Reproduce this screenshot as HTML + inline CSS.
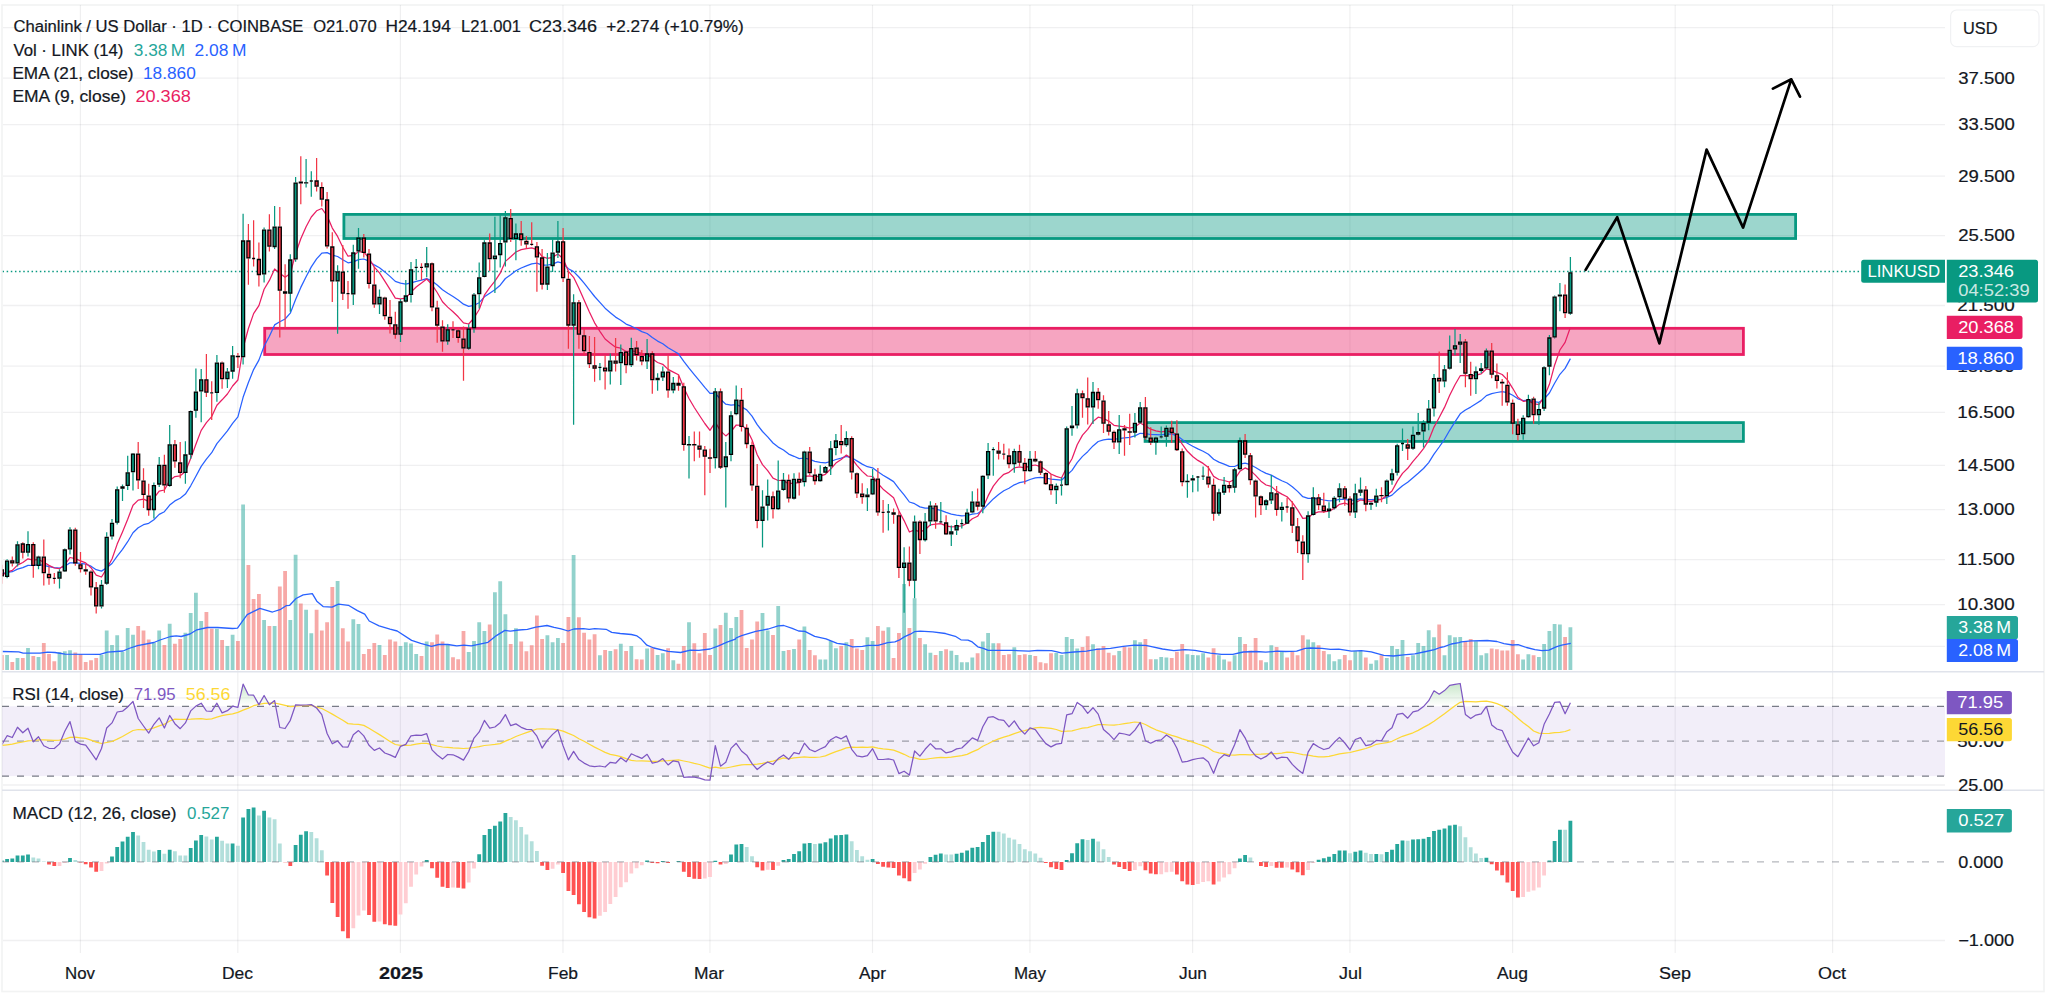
<!DOCTYPE html>
<html lang="en"><head><meta charset="utf-8"><title>Chainlink / US Dollar</title>
<style>html,body{margin:0;padding:0;background:#fff;overflow:hidden}svg{display:block}</style></head>
<body>
<svg width="2048" height="996" viewBox="0 0 2048 996" font-family="'Liberation Sans', sans-serif" font-size="16" fill="#131722">
<rect width="2048" height="996" fill="#fff"/>
<path d="M80.4 5V953 M237.8 5V953 M400.4 5V953 M563.0 5V953 M709.9 5V953 M872.5 5V953 M1029.9 5V953 M1192.6 5V953 M1349.9 5V953 M1512.6 5V953 M1675.2 5V953 M1832.6 5V953" stroke="#2A2E39" stroke-opacity="0.075" stroke-width="1.15" fill="none"/>
<path d="M3 27.6H1945 M3 78.1H1945 M3 124.7H1945 M3 176.1H1945 M3 235.7H1945 M3 305.5H1945 M3 366.1H1945 M3 412.3H1945 M3 465.4H1945 M3 509.7H1945 M3 559.7H1945 M3 604.6H1945 M3 646.4H1945 M3 697.9H1945 M3 785.0H1945 M3 940.5H1945" stroke="#2A2E39" stroke-opacity="0.07" stroke-width="1.3" fill="none"/>
<rect x="2" y="5" width="2042" height="986.5" fill="none" stroke="#2A2E39" stroke-opacity="0.06" stroke-width="1.6"/>
<path d="M2 671.7H2044M2 790.2H2044" stroke="#E0E3EB" stroke-width="1.5" fill="none"/>
<rect x="2" y="706.3" width="1943" height="69.8" fill="#7E57C2" fill-opacity="0.1"/>
<path d="M2 706.3H1945M2 776.1H1945" stroke="#787B86" stroke-width="1.3" stroke-dasharray="7 8" fill="none"/>
<path d="M2 741.2H1945" stroke="#787B86" stroke-opacity="0.7" stroke-width="1.2" stroke-dasharray="7 8" fill="none"/>
<defs><clipPath id="plot"><rect x="2.6" y="5" width="2042" height="950"/></clipPath></defs><g clip-path="url(#plot)">
<path d="M5.2 655.0h3.8V670h-3.8zM15.6 658.1h3.8V670h-3.8zM26.1 648.1h3.8V670h-3.8zM36.6 657.1h3.8V670h-3.8zM57.6 652.1h3.8V670h-3.8zM62.9 651.2h3.8V670h-3.8zM68.1 650.2h3.8V670h-3.8zM99.6 655.0h3.8V670h-3.8zM104.8 630.6h3.8V670h-3.8zM110.1 645.0h3.8V670h-3.8zM115.3 635.2h3.8V670h-3.8zM120.6 652.1h3.8V670h-3.8zM125.8 628.1h3.8V670h-3.8zM131.1 634.8h3.8V670h-3.8zM152.0 642.5h3.8V670h-3.8zM157.3 630.4h3.8V670h-3.8zM167.8 623.8h3.8V670h-3.8zM183.5 632.8h3.8V670h-3.8zM188.8 613.1h3.8V670h-3.8zM194.0 592.8h3.8V670h-3.8zM199.3 621.0h3.8V670h-3.8zM215.0 628.8h3.8V670h-3.8zM225.5 645.9h3.8V670h-3.8zM230.7 634.8h3.8V670h-3.8zM241.2 504.5h3.8V670h-3.8zM262.2 620.1h3.8V670h-3.8zM272.7 625.9h3.8V670h-3.8zM288.4 620.1h3.8V670h-3.8zM293.7 554.7h3.8V670h-3.8zM304.2 609.8h3.8V670h-3.8zM309.4 633.2h3.8V670h-3.8zM335.7 580.9h3.8V670h-3.8zM351.4 619.2h3.8V670h-3.8zM356.6 624.1h3.8V670h-3.8zM377.6 645.1h3.8V670h-3.8zM398.6 646.0h3.8V670h-3.8zM403.9 642.2h3.8V670h-3.8zM409.1 643.6h3.8V670h-3.8zM414.3 653.9h3.8V670h-3.8zM424.8 641.5h3.8V670h-3.8zM445.8 644.5h3.8V670h-3.8zM466.8 652.1h3.8V670h-3.8zM472.1 640.9h3.8V670h-3.8zM477.3 622.3h3.8V670h-3.8zM482.5 631.0h3.8V670h-3.8zM493.0 592.3h3.8V670h-3.8zM498.3 581.2h3.8V670h-3.8zM503.5 614.2h3.8V670h-3.8zM514.0 628.3h3.8V670h-3.8zM545.5 635.3h3.8V670h-3.8zM550.7 642.2h3.8V670h-3.8zM556.0 638.1h3.8V670h-3.8zM571.7 555.0h3.8V670h-3.8zM598.0 655.3h3.8V670h-3.8zM608.4 651.1h3.8V670h-3.8zM618.9 643.8h3.8V670h-3.8zM629.4 645.9h3.8V670h-3.8zM645.2 648.5h3.8V670h-3.8zM655.7 655.0h3.8V670h-3.8zM660.9 653.2h3.8V670h-3.8zM671.4 660.2h3.8V670h-3.8zM687.1 622.2h3.8V670h-3.8zM713.4 628.6h3.8V670h-3.8zM723.9 612.8h3.8V670h-3.8zM729.1 628.1h3.8V670h-3.8zM734.4 617.0h3.8V670h-3.8zM760.6 613.1h3.8V670h-3.8zM765.8 630.4h3.8V670h-3.8zM776.3 606.1h3.8V670h-3.8zM781.6 651.1h3.8V670h-3.8zM792.1 649.0h3.8V670h-3.8zM802.5 626.5h3.8V670h-3.8zM818.3 659.5h3.8V670h-3.8zM823.5 659.5h3.8V670h-3.8zM828.8 640.9h3.8V670h-3.8zM834.0 648.3h3.8V670h-3.8zM844.5 642.2h3.8V670h-3.8zM865.5 637.3h3.8V670h-3.8zM870.7 640.9h3.8V670h-3.8zM886.5 627.2h3.8V670h-3.8zM902.2 584.0h3.8V670h-3.8zM912.7 598.3h3.8V670h-3.8zM923.2 644.3h3.8V670h-3.8zM928.5 652.8h3.8V670h-3.8zM938.9 651.1h3.8V670h-3.8zM949.4 650.8h3.8V670h-3.8zM954.7 655.0h3.8V670h-3.8zM959.9 662.3h3.8V670h-3.8zM965.2 662.3h3.8V670h-3.8zM970.4 657.4h3.8V670h-3.8zM980.9 641.5h3.8V670h-3.8zM986.2 633.1h3.8V670h-3.8zM991.4 643.3h3.8V670h-3.8zM1012.4 647.3h3.8V670h-3.8zM1028.1 655.0h3.8V670h-3.8zM1054.4 652.9h3.8V670h-3.8zM1059.6 655.0h3.8V670h-3.8zM1064.8 637.0h3.8V670h-3.8zM1070.1 639.1h3.8V670h-3.8zM1075.3 648.5h3.8V670h-3.8zM1091.1 644.3h3.8V670h-3.8zM1117.3 651.1h3.8V670h-3.8zM1133.0 640.2h3.8V670h-3.8zM1138.3 642.3h3.8V670h-3.8zM1154.0 659.2h3.8V670h-3.8zM1159.3 657.0h3.8V670h-3.8zM1164.5 657.4h3.8V670h-3.8zM1185.5 654.2h3.8V670h-3.8zM1190.8 655.0h3.8V670h-3.8zM1196.0 655.3h3.8V670h-3.8zM1201.2 653.2h3.8V670h-3.8zM1217.0 655.3h3.8V670h-3.8zM1222.2 659.5h3.8V670h-3.8zM1232.7 655.3h3.8V670h-3.8zM1238.0 637.0h3.8V670h-3.8zM1264.2 662.3h3.8V670h-3.8zM1269.4 645.2h3.8V670h-3.8zM1279.9 651.1h3.8V670h-3.8zM1306.2 639.5h3.8V670h-3.8zM1311.4 642.2h3.8V670h-3.8zM1327.1 654.2h3.8V670h-3.8zM1332.4 661.2h3.8V670h-3.8zM1337.6 659.2h3.8V670h-3.8zM1353.4 651.1h3.8V670h-3.8zM1358.6 651.1h3.8V670h-3.8zM1369.1 663.7h3.8V670h-3.8zM1374.4 660.2h3.8V670h-3.8zM1384.9 658.1h3.8V670h-3.8zM1390.1 646.1h3.8V670h-3.8zM1395.3 649.0h3.8V670h-3.8zM1400.6 640.1h3.8V670h-3.8zM1411.1 655.3h3.8V670h-3.8zM1416.3 643.1h3.8V670h-3.8zM1421.6 645.9h3.8V670h-3.8zM1426.8 630.3h3.8V670h-3.8zM1432.1 637.3h3.8V670h-3.8zM1442.6 655.3h3.8V670h-3.8zM1447.8 635.2h3.8V670h-3.8zM1453.1 637.3h3.8V670h-3.8zM1458.3 637.0h3.8V670h-3.8zM1474.0 641.2h3.8V670h-3.8zM1479.3 655.3h3.8V670h-3.8zM1484.5 653.2h3.8V670h-3.8zM1521.2 659.5h3.8V670h-3.8zM1526.5 654.2h3.8V670h-3.8zM1537.0 657.0h3.8V670h-3.8zM1542.2 644.0h3.8V670h-3.8zM1547.5 631.1h3.8V670h-3.8zM1552.7 623.9h3.8V670h-3.8zM1558.0 624.4h3.8V670h-3.8zM1568.5 627.2h3.8V670h-3.8z" fill="#26A69A" fill-opacity="0.5"/>
<path d="M-0.1 655.0h3.8V670h-3.8zM10.4 662.1h3.8V670h-3.8zM20.9 658.1h3.8V670h-3.8zM31.4 656.0h3.8V670h-3.8zM41.9 643.1h3.8V670h-3.8zM47.1 654.1h3.8V670h-3.8zM52.4 661.2h3.8V670h-3.8zM73.4 652.5h3.8V670h-3.8zM78.6 654.1h3.8V670h-3.8zM83.8 662.1h3.8V670h-3.8zM89.1 660.2h3.8V670h-3.8zM94.3 658.1h3.8V670h-3.8zM136.3 626.0h3.8V670h-3.8zM141.6 630.6h3.8V670h-3.8zM146.8 639.6h3.8V670h-3.8zM162.5 645.0h3.8V670h-3.8zM173.0 643.8h3.8V670h-3.8zM178.3 639.0h3.8V670h-3.8zM204.5 612.1h3.8V670h-3.8zM209.8 628.8h3.8V670h-3.8zM220.2 640.0h3.8V670h-3.8zM236.0 641.0h3.8V670h-3.8zM246.5 565.0h3.8V670h-3.8zM251.7 599.0h3.8V670h-3.8zM257.0 593.9h3.8V670h-3.8zM267.5 625.9h3.8V670h-3.8zM277.9 586.4h3.8V670h-3.8zM283.2 571.0h3.8V670h-3.8zM298.9 603.5h3.8V670h-3.8zM314.7 609.8h3.8V670h-3.8zM319.9 630.4h3.8V670h-3.8zM325.2 622.3h3.8V670h-3.8zM330.4 587.1h3.8V670h-3.8zM340.9 628.3h3.8V670h-3.8zM346.1 641.5h3.8V670h-3.8zM361.9 653.9h3.8V670h-3.8zM367.1 649.1h3.8V670h-3.8zM372.4 643.1h3.8V670h-3.8zM382.9 655.0h3.8V670h-3.8zM388.1 639.5h3.8V670h-3.8zM393.4 641.5h3.8V670h-3.8zM419.6 655.9h3.8V670h-3.8zM430.1 642.2h3.8V670h-3.8zM435.3 634.6h3.8V670h-3.8zM440.6 641.5h3.8V670h-3.8zM451.1 657.2h3.8V670h-3.8zM456.3 659.3h3.8V670h-3.8zM461.6 631.0h3.8V670h-3.8zM487.8 624.4h3.8V670h-3.8zM508.8 644.0h3.8V670h-3.8zM519.3 641.6h3.8V670h-3.8zM524.5 651.3h3.8V670h-3.8zM529.8 645.2h3.8V670h-3.8zM535.0 615.5h3.8V670h-3.8zM540.2 639.1h3.8V670h-3.8zM561.2 643.1h3.8V670h-3.8zM566.5 617.0h3.8V670h-3.8zM577.0 617.3h3.8V670h-3.8zM582.2 632.8h3.8V670h-3.8zM587.5 639.5h3.8V670h-3.8zM592.7 634.2h3.8V670h-3.8zM603.2 650.1h3.8V670h-3.8zM613.7 649.2h3.8V670h-3.8zM624.2 651.1h3.8V670h-3.8zM634.7 659.2h3.8V670h-3.8zM639.9 659.5h3.8V670h-3.8zM650.4 647.5h3.8V670h-3.8zM666.2 648.3h3.8V670h-3.8zM676.6 663.7h3.8V670h-3.8zM681.9 645.9h3.8V670h-3.8zM692.4 643.3h3.8V670h-3.8zM697.6 653.2h3.8V670h-3.8zM702.9 633.1h3.8V670h-3.8zM708.1 655.0h3.8V670h-3.8zM718.6 625.1h3.8V670h-3.8zM739.6 610.0h3.8V670h-3.8zM744.8 648.0h3.8V670h-3.8zM750.1 639.5h3.8V670h-3.8zM755.3 621.5h3.8V670h-3.8zM771.1 634.9h3.8V670h-3.8zM786.8 650.1h3.8V670h-3.8zM797.3 639.4h3.8V670h-3.8zM807.8 650.1h3.8V670h-3.8zM813.0 655.3h3.8V670h-3.8zM839.3 646.1h3.8V670h-3.8zM849.8 639.1h3.8V670h-3.8zM855.0 648.5h3.8V670h-3.8zM860.3 650.1h3.8V670h-3.8zM876.0 626.0h3.8V670h-3.8zM881.2 630.7h3.8V670h-3.8zM891.7 658.1h3.8V670h-3.8zM897.0 633.1h3.8V670h-3.8zM907.5 628.1h3.8V670h-3.8zM918.0 638.1h3.8V670h-3.8zM933.7 654.9h3.8V670h-3.8zM944.2 649.2h3.8V670h-3.8zM975.7 653.2h3.8V670h-3.8zM996.7 643.3h3.8V670h-3.8zM1001.9 655.0h3.8V670h-3.8zM1007.1 654.2h3.8V670h-3.8zM1017.6 655.0h3.8V670h-3.8zM1022.9 654.2h3.8V670h-3.8zM1033.4 656.1h3.8V670h-3.8zM1038.6 662.3h3.8V670h-3.8zM1043.9 663.3h3.8V670h-3.8zM1049.1 653.2h3.8V670h-3.8zM1080.6 647.1h3.8V670h-3.8zM1085.8 636.3h3.8V670h-3.8zM1096.3 648.3h3.8V670h-3.8zM1101.6 646.1h3.8V670h-3.8zM1106.8 652.8h3.8V670h-3.8zM1112.1 655.3h3.8V670h-3.8zM1122.6 646.8h3.8V670h-3.8zM1127.8 647.5h3.8V670h-3.8zM1143.5 639.1h3.8V670h-3.8zM1148.8 659.2h3.8V670h-3.8zM1169.8 658.1h3.8V670h-3.8zM1175.0 651.8h3.8V670h-3.8zM1180.3 644.0h3.8V670h-3.8zM1206.5 657.4h3.8V670h-3.8zM1211.7 648.3h3.8V670h-3.8zM1227.5 661.6h3.8V670h-3.8zM1243.2 644.0h3.8V670h-3.8zM1248.5 650.6h3.8V670h-3.8zM1253.7 638.1h3.8V670h-3.8zM1259.0 660.2h3.8V670h-3.8zM1274.7 647.1h3.8V670h-3.8zM1285.2 657.4h3.8V670h-3.8zM1290.4 651.8h3.8V670h-3.8zM1295.7 655.3h3.8V670h-3.8zM1300.9 635.3h3.8V670h-3.8zM1316.7 645.2h3.8V670h-3.8zM1321.9 651.1h3.8V670h-3.8zM1342.9 655.0h3.8V670h-3.8zM1348.1 660.2h3.8V670h-3.8zM1363.9 657.4h3.8V670h-3.8zM1379.6 655.3h3.8V670h-3.8zM1405.8 657.0h3.8V670h-3.8zM1437.3 624.4h3.8V670h-3.8zM1463.5 640.9h3.8V670h-3.8zM1468.8 639.1h3.8V670h-3.8zM1489.8 648.5h3.8V670h-3.8zM1495.0 649.2h3.8V670h-3.8zM1500.3 650.6h3.8V670h-3.8zM1505.5 650.6h3.8V670h-3.8zM1510.8 640.1h3.8V670h-3.8zM1516.0 654.2h3.8V670h-3.8zM1531.7 655.3h3.8V670h-3.8zM1563.2 637.0h3.8V670h-3.8z" fill="#EF5350" fill-opacity="0.5"/>
<polyline points="2.5,651.5 18.8,651.9 23.1,653.1 40.0,653.1 47.5,652.1 55.0,652.5 65.0,654.1 100.0,654.4 107.5,652.1 123.1,651.0 128.8,648.5 137.5,645.6 153.8,642.5 160.0,640.0 170.6,636.5 176.2,635.9 181.2,636.5 190.0,634.0 196.9,629.8 207.5,627.5 217.5,627.5 232.5,628.5 237.5,628.1 240.0,624.7 247.2,614.7 259.9,608.4 272.5,612.0 280.7,609.3 286.1,605.7 289.7,605.3 296.0,598.5 303.2,594.9 312.3,593.6 316.8,601.2 323.1,606.6 332.1,607.1 338.5,604.2 348.4,605.3 357.4,610.6 364.7,614.2 369.2,621.0 379.1,625.9 390.0,629.2 397.2,631.0 411.6,640.4 420.7,643.3 431.5,646.3 438.7,644.5 447.8,644.5 456.8,645.8 464.0,645.1 471.3,645.8 482.1,643.6 488.0,642.3 496.4,635.6 504.9,630.4 510.5,631.1 518.9,630.0 527.4,629.3 535.8,627.2 547.0,625.5 554.1,627.4 561.1,628.9 568.1,631.0 573.8,629.0 583.6,628.6 589.2,629.3 594.8,628.6 606.1,629.3 611.7,632.4 620.2,633.5 631.4,634.5 637.0,635.9 641.2,639.1 646.9,645.2 653.9,648.0 668.0,651.3 680.6,652.5 690.4,650.1 698.9,650.4 710.1,649.0 718.6,645.9 727.0,642.2 735.4,639.1 736.0,638.0 741.6,635.6 755.7,631.4 768.3,629.0 778.2,625.8 783.8,625.5 792.2,628.3 798.6,631.0 804.9,631.4 814.7,636.3 826.0,638.8 837.2,643.3 845.7,644.5 852.7,646.8 862.5,646.4 868.2,645.4 878.0,645.4 887.8,642.6 894.9,641.9 899.1,640.2 904.7,636.6 910.3,634.2 914.5,631.7 920.2,631.1 932.8,631.8 945.5,633.5 955.3,636.3 960.9,639.8 968.0,640.2 972.2,641.9 977.8,646.8 983.4,648.3 988.2,650.4 1012.1,650.4 1029.0,651.1 1037.4,650.4 1051.5,650.6 1057.1,651.8 1062.0,653.2 1074.0,652.0 1086.6,651.1 1096.5,649.4 1110.5,648.3 1123.2,646.4 1134.4,645.2 1145.7,645.4 1152.7,646.8 1162.5,649.0 1173.8,650.6 1185.0,649.7 1194.9,650.4 1203.3,651.8 1210.3,653.2 1221.6,654.3 1232.8,654.3 1243.2,652.0 1255.9,651.5 1265.7,652.2 1277.0,651.1 1285.4,651.5 1296.7,651.1 1305.1,648.3 1310.7,648.0 1322.0,648.3 1330.4,649.4 1338.8,649.1 1351.5,651.1 1361.3,650.6 1371.2,651.8 1383.8,655.3 1393.7,656.0 1403.5,654.9 1414.8,653.9 1426.0,651.5 1434.4,649.7 1440.1,647.5 1444.3,646.6 1451.3,644.0 1459.0,642.6 1461.2,641.9 1471.0,640.9 1473.1,640.8 1487.2,640.5 1497.0,641.5 1504.0,643.6 1512.5,645.0 1518.1,644.7 1526.5,647.5 1535.0,649.7 1542.0,650.6 1549.0,650.1 1556.1,646.8 1561.7,645.2 1570.8,643.3" fill="none" stroke="#2962FF" stroke-width="1.3" stroke-linejoin="round"/>
<rect x="343.9" y="214.4" width="1451.6999999999998" height="24.099999999999994" fill="#089981" fill-opacity="0.4" stroke="#089981" stroke-width="2.8"/>
<rect x="264.7" y="328.3" width="1478.7" height="26.19999999999999" fill="#E91E63" fill-opacity="0.4" stroke="#E91E63" stroke-width="2.8"/>
<rect x="1145.1" y="422.6" width="598.3000000000002" height="18.799999999999955" fill="#089981" fill-opacity="0.4" stroke="#089981" stroke-width="2.8"/>
<path d="M2.5 271.5H1861" stroke="#089981" stroke-width="1.4" stroke-dasharray="1.5 2.65" fill="none"/>
<polyline points="1.8,573.7 7.1,572.5 12.3,571.7 17.5,569.1 22.8,567.6 28.0,565.4 33.3,565.5 38.5,564.6 43.8,565.4 49.0,566.6 54.3,567.7 59.5,568.0 64.8,566.3 70.0,562.8 75.3,562.9 80.5,563.4 85.7,564.2 91.0,566.2 96.2,569.7 101.5,571.1 106.7,567.8 112.0,563.5 117.2,556.2 122.5,549.3 127.7,541.7 133.0,532.8 138.2,527.8 143.5,524.7 148.7,523.3 153.9,519.7 159.2,514.4 164.4,511.7 169.7,505.1 174.9,500.9 180.2,498.3 185.4,494.1 190.7,485.8 195.9,476.2 201.2,466.4 206.4,459.1 211.7,452.7 216.9,443.6 222.1,437.3 227.4,430.9 232.6,423.4 237.9,416.9 243.1,397.3 248.4,382.5 253.6,369.6 258.9,360.1 264.1,346.3 269.4,336.2 274.6,324.9 279.8,321.7 285.1,319.0 290.3,313.2 295.6,299.5 300.8,287.4 306.1,276.7 311.3,266.9 316.6,258.9 321.8,253.2 327.1,252.6 332.3,255.1 337.6,256.5 342.8,259.8 348.0,262.8 353.3,261.8 358.5,259.6 363.8,259.0 369.0,261.2 374.3,264.9 379.5,267.7 384.8,271.9 390.0,276.4 395.3,281.4 400.5,283.1 405.8,284.2 411.0,282.9 416.2,281.4 421.5,280.1 426.7,278.6 432.0,281.1 437.2,285.0 442.5,289.8 447.7,293.2 453.0,296.5 458.2,300.1 463.5,304.2 468.7,306.4 474.0,305.3 479.2,302.7 484.4,296.8 489.7,293.2 494.9,289.7 500.2,285.2 505.4,278.5 510.7,274.8 515.9,270.8 521.2,268.0 526.4,265.8 531.7,263.8 536.9,263.2 542.1,265.1 547.4,265.2 552.6,264.1 557.9,261.9 563.1,263.4 568.4,268.7 573.6,271.6 578.9,277.0 584.1,283.2 589.4,289.9 594.6,296.5 599.9,302.4 605.1,308.2 610.3,312.7 615.6,317.1 620.8,320.2 626.1,324.1 631.3,326.2 636.6,328.7 641.8,331.6 647.1,333.5 652.3,337.6 657.6,341.1 662.8,343.7 668.1,347.8 673.3,350.8 678.5,353.9 683.8,361.4 689.0,368.2 694.3,374.7 699.5,380.9 704.8,387.3 710.0,393.3 715.3,393.1 720.5,399.3 725.8,404.2 731.0,405.2 736.2,404.7 741.5,406.7 746.7,409.9 752.0,416.2 757.2,424.7 762.5,431.5 767.7,436.9 773.0,443.0 778.2,447.1 783.5,450.0 788.7,454.1 794.0,456.3 799.2,458.6 804.4,458.0 809.7,459.4 814.9,461.3 820.2,462.4 825.4,462.8 830.7,461.5 835.9,459.5 841.2,458.2 846.4,456.3 851.7,457.8 856.9,460.9 862.2,464.1 867.4,466.7 872.6,467.8 877.9,471.7 883.1,475.2 888.4,478.4 893.6,481.6 898.9,488.7 904.1,494.9 909.4,502.0 914.6,503.7 919.9,506.9 925.1,508.2 930.4,508.0 935.6,509.2 940.8,510.3 946.1,512.4 951.3,514.1 956.6,515.1 961.8,515.8 967.1,515.5 972.3,514.2 977.6,513.5 982.8,510.0 988.1,504.2 993.3,498.9 998.6,494.6 1003.8,490.8 1009.0,488.3 1014.3,484.8 1019.5,482.7 1024.8,481.7 1030.0,479.5 1035.3,477.8 1040.5,477.4 1045.8,478.0 1051.0,479.1 1056.3,479.7 1061.5,480.2 1066.7,475.2 1072.0,470.4 1077.2,462.7 1082.5,456.4 1087.7,451.7 1093.0,445.9 1098.2,441.5 1103.5,439.9 1108.7,439.1 1114.0,439.4 1119.2,438.5 1124.5,437.8 1129.7,437.3 1134.9,435.9 1140.2,433.3 1145.4,433.7 1150.7,434.5 1155.9,434.7 1161.2,434.9 1166.4,434.2 1171.7,434.1 1176.9,435.6 1182.2,439.6 1187.4,443.2 1192.7,446.2 1197.9,448.9 1203.1,451.3 1208.4,454.2 1213.6,459.2 1218.9,462.1 1224.1,464.1 1229.4,466.3 1234.6,466.5 1239.9,464.1 1245.1,463.2 1250.4,464.7 1255.6,467.5 1260.9,470.8 1266.1,473.4 1271.3,475.1 1276.6,478.1 1281.8,480.7 1287.1,483.0 1292.3,486.7 1297.6,491.4 1302.8,496.7 1308.1,498.4 1313.3,498.3 1318.6,498.9 1323.8,500.0 1329.0,500.8 1334.3,500.5 1339.5,499.4 1344.8,499.3 1350.0,500.5 1355.3,499.8 1360.5,498.9 1365.8,499.4 1371.0,499.7 1376.3,499.3 1381.5,499.0 1386.8,497.3 1392.0,495.1 1397.2,490.3 1402.5,485.7 1407.7,482.2 1413.0,477.7 1418.2,473.3 1423.5,468.5 1428.7,462.6 1434.0,454.2 1439.2,447.0 1444.5,439.3 1449.7,430.3 1455.0,421.8 1460.2,413.8 1465.4,410.0 1470.7,407.1 1475.9,403.7 1481.2,400.4 1486.4,395.6 1491.7,393.6 1496.9,392.5 1502.2,391.6 1507.4,392.6 1512.7,395.3 1517.9,398.8 1523.2,400.5 1528.4,400.3 1533.6,401.7 1538.9,402.3 1544.1,399.0 1549.4,393.0 1554.6,383.2 1559.9,374.3 1565.1,368.4 1570.4,358.6" fill="none" stroke="#2962FF" stroke-width="1.25" stroke-linejoin="round"/>
<polyline points="1.8,575.1 7.1,572.1 12.3,570.4 17.5,565.1 22.8,562.5 28.0,558.8 33.3,560.2 38.5,559.5 43.8,562.2 49.0,565.4 54.3,568.0 59.5,568.7 64.8,564.8 70.0,557.5 75.3,558.7 80.5,560.8 85.7,562.9 91.0,567.7 96.2,575.1 101.5,577.0 106.7,568.6 112.0,559.0 117.2,544.1 122.5,531.9 127.7,519.2 133.0,505.2 138.2,500.1 143.5,499.1 148.7,501.3 153.9,498.0 159.2,491.1 164.4,490.0 169.7,480.4 174.9,476.6 180.2,475.8 185.4,471.4 190.7,458.6 195.9,444.3 201.2,430.4 206.4,422.6 211.7,416.6 216.9,405.2 222.1,399.8 227.4,394.0 232.6,386.0 237.9,380.0 243.1,348.0 248.4,328.5 253.6,313.6 258.9,305.6 264.1,289.2 269.4,280.4 274.6,269.0 279.8,273.2 285.1,277.3 290.3,273.6 295.6,253.7 300.8,238.7 306.1,226.7 311.3,217.0 316.6,210.8 321.8,208.5 327.1,215.8 332.3,228.1 337.6,236.4 342.8,247.2 348.0,256.2 353.3,255.4 358.5,251.8 363.8,252.0 369.0,258.2 374.3,267.1 379.5,272.8 384.8,281.1 390.0,289.4 395.3,298.1 400.5,298.8 405.8,298.1 411.0,292.1 416.2,287.0 421.5,283.1 426.7,279.0 432.0,284.6 437.2,292.5 442.5,301.8 447.7,307.1 453.0,311.7 458.2,316.8 463.5,322.9 468.7,324.0 474.0,318.0 479.2,309.5 484.4,295.2 489.7,287.7 494.9,281.1 500.2,273.2 505.4,261.4 510.7,256.8 515.9,252.0 521.2,249.6 526.4,248.6 531.7,247.8 536.9,249.7 542.1,256.5 547.4,258.4 552.6,257.3 557.9,254.0 563.1,258.7 568.4,271.3 573.6,277.3 578.9,288.2 584.1,300.0 589.4,312.1 594.6,322.8 599.9,331.3 605.1,339.0 610.3,343.2 615.6,347.2 620.8,348.2 626.1,351.5 631.3,350.8 636.6,351.7 641.8,353.6 647.1,353.6 652.3,358.8 657.6,362.5 662.8,364.3 668.1,369.4 673.3,372.1 678.5,374.7 683.8,387.8 689.0,398.5 694.3,407.5 699.5,415.5 704.8,423.5 710.0,430.3 715.3,422.2 720.5,430.9 725.8,435.9 731.0,431.6 736.2,425.0 741.5,425.4 746.7,429.1 752.0,439.7 757.2,454.7 762.5,464.6 767.7,470.6 773.0,478.1 778.2,480.5 783.5,480.4 788.7,483.9 794.0,482.9 799.2,482.8 804.4,476.4 809.7,475.8 814.9,476.8 820.2,476.2 825.4,474.3 830.7,469.0 835.9,463.1 841.2,459.5 846.4,455.1 851.7,458.5 856.9,465.3 862.2,471.4 867.4,476.0 872.6,476.5 877.9,483.5 883.1,489.2 888.4,493.5 893.6,497.7 898.9,510.8 904.1,520.6 909.4,532.0 914.6,529.9 919.9,531.9 925.1,529.8 930.4,524.8 935.6,524.2 940.8,523.6 946.1,525.8 951.3,526.9 956.6,526.5 961.8,525.9 967.1,523.2 972.3,518.7 977.6,516.3 982.8,507.9 988.1,495.9 993.3,486.1 998.6,479.4 1003.8,474.3 1009.0,472.3 1014.3,467.9 1019.5,466.9 1024.8,467.8 1030.0,465.9 1035.3,465.0 1040.5,466.6 1045.8,470.1 1051.0,474.0 1056.3,476.4 1061.5,478.0 1066.7,467.6 1072.0,458.8 1077.2,444.8 1082.5,435.1 1087.7,429.4 1093.0,421.6 1098.2,417.2 1103.5,418.5 1108.7,421.1 1114.0,425.3 1119.2,426.1 1124.5,426.9 1129.7,428.1 1134.9,427.0 1140.2,423.0 1145.4,425.9 1150.7,429.2 1155.9,430.8 1161.2,431.9 1166.4,431.1 1171.7,431.5 1176.9,435.2 1182.2,444.2 1187.4,451.3 1192.7,456.5 1197.9,460.4 1203.1,463.4 1208.4,467.6 1213.6,476.4 1218.9,479.5 1224.1,480.5 1229.4,482.0 1234.6,479.5 1239.9,471.3 1245.1,467.9 1250.4,470.4 1255.6,475.4 1260.9,481.2 1266.1,485.0 1271.3,486.4 1276.6,491.1 1281.8,494.1 1287.1,496.8 1292.3,502.4 1297.6,509.9 1302.8,518.4 1308.1,517.8 1313.3,513.6 1318.6,511.9 1323.8,511.8 1329.0,511.2 1334.3,508.4 1339.5,504.3 1344.8,503.2 1350.0,505.0 1355.3,502.6 1360.5,500.0 1365.8,500.9 1371.0,501.3 1376.3,500.1 1381.5,499.3 1386.8,495.5 1392.0,491.0 1397.2,481.4 1402.5,473.4 1407.7,468.3 1413.0,461.4 1418.2,455.3 1423.5,448.6 1428.7,440.3 1434.0,427.1 1439.2,417.5 1444.5,407.4 1449.7,395.2 1455.0,384.7 1460.2,375.7 1465.4,375.3 1470.7,376.1 1475.9,375.2 1481.2,373.8 1486.4,369.0 1491.7,370.2 1496.9,372.3 1502.2,374.5 1507.4,379.9 1512.7,388.3 1517.9,397.2 1523.2,401.3 1528.4,400.8 1533.6,403.7 1538.9,404.7 1544.1,396.9 1549.4,384.3 1554.6,365.2 1559.9,350.0 1565.1,342.4 1570.4,327.3" fill="none" stroke="#E91E63" stroke-width="1.25" stroke-linejoin="round"/>
<path d="M7.1 559.3V560.6M7.1 576.9V578.3M17.5 541.3V544.3M17.5 563.5V566.6M28.0 531.3V544.0M28.0 552.7V556.6M38.5 555.7V556.6M38.5 566.0V569.3M59.5 569.3V571.5M59.5 578.7V588.6M64.8 548.5V549.4M64.8 571.5V572.0M70.0 527.3V529.5M70.0 549.4V554.5M101.5 580.1V584.7M101.5 606.4V608.5M106.7 532.2V536.7M106.7 583.8V584.7M112.0 519.0V522.8M112.0 536.4V539.5M117.2 486.5V489.2M117.2 522.8V524.6M122.5 484.6V486.4M122.5 488.8V500.9M127.7 455.7V472.3M127.7 485.9V490.0M133.0 453.0V453.5M133.0 472.3V490.4M153.9 482.4V485.0M153.9 510.1V518.4M159.2 457.1V464.7M159.2 484.6V487.0M169.7 424.9V444.3M169.7 485.9V486.8M185.4 441.2V454.4M185.4 472.9V483.7M190.7 410.5V411.0M190.7 454.8V458.8M195.9 368.5V391.5M195.9 410.8V417.7M201.2 368.9V379.2M201.2 391.5V422.2M216.9 355.0V362.5M216.9 392.9V401.8M227.4 368.0V371.6M227.4 379.2V387.9M232.6 345.9V355.3M232.6 371.6V378.8M243.1 213.7V240.4M243.1 357.2V364.5M264.1 227.4V229.6M264.1 274.4V282.5M274.6 206.1V226.5M274.6 247.1V248.9M290.3 254.3V259.4M290.3 293.8V311.8M295.6 177.1V182.5M295.6 259.4V261.8M306.1 159.0V182.2M306.1 183.5V187.4M311.3 171.2V180.4M311.3 181.6V196.7M337.6 265.2V271.2M337.6 281.5V333.7M353.3 244.8V252.4M353.3 294.5V305.0M358.5 228.1V237.5M358.5 251.5V268.7M379.5 289.4V296.7M379.5 304.5V314.0M400.5 299.0V301.4M400.5 334.8V341.9M405.8 280.0V295.4M405.8 301.7V302.6M411.0 262.0V269.2M411.0 294.9V302.6M416.2 258.9V266.8M416.2 268.0V280.0M426.7 247.1V263.2M426.7 267.4V277.3M447.7 324.3V329.2M447.7 341.5V344.8M468.7 324.3V328.5M468.7 348.8V349.7M474.0 293.1V294.5M474.0 328.3V332.8M479.2 262.5V277.3M479.2 294.2V308.6M484.4 240.3V242.4M484.4 277.0V277.3M494.9 216.8V255.6M494.9 259.2V293.1M500.2 215.3V243.0M500.2 255.1V267.4M505.4 211.0V217.3M505.4 242.4V266.5M515.9 223.6V233.4M515.9 239.0V260.2M547.4 252.9V266.5M547.4 284.6V290.0M552.6 239.4V252.6M552.6 266.1V271.9M557.9 220.9V241.2M557.9 252.6V258.0M573.6 294.2V302.3M573.6 325.6V424.7M599.9 363.0V366.8M599.9 368.0V380.2M610.3 353.4V360.6M610.3 371.5V384.5M620.8 344.4V352.0M620.8 363.3V385.0M631.3 337.7V348.0M631.3 365.2V367.0M647.1 338.9V353.4M647.1 361.5V369.1M657.6 373.3V377.8M657.6 380.2V390.8M662.8 366.6V371.5M662.8 377.5V380.9M673.3 376.9V382.9M673.3 390.5V393.2M689.0 436.0V444.1M689.0 445.4V478.5M715.3 388.1V391.3M715.3 458.2V468.6M725.8 442.0V456.4M725.8 467.3V507.4M731.0 411.2V415.2M731.0 455.0V461.3M736.2 385.4V399.5M736.2 414.3V415.2M762.5 490.3V506.5M762.5 521.0V547.6M767.7 479.4V495.7M767.7 505.6V520.5M778.2 460.4V490.6M778.2 509.2V510.1M783.5 473.1V479.8M783.5 489.9V490.8M794.0 473.3V478.7M794.0 498.6V499.5M804.4 450.7V451.6M804.4 482.3V486.5M820.2 465.2V473.7M820.2 481.1V481.4M825.4 466.1V467.0M825.4 472.7V473.3M830.7 441.1V448.3M830.7 466.4V475.1M835.9 433.9V440.4M835.9 448.0V455.2M846.4 431.2V438.0M846.4 445.3V446.7M867.4 488.3V494.6M867.4 497.2V510.9M872.6 469.1V478.7M872.6 494.4V495.0M888.4 503.9V511.4M888.4 512.6V530.5M904.1 547.3V562.5M904.1 568.0V612.8M914.6 515.5V521.5M914.6 580.8V598.3M925.1 513.0V521.5M925.1 540.1V541.4M930.4 501.2V505.6M930.4 521.5V526.0M940.8 502.0V521.3M940.8 522.5V522.9M951.3 525.5V531.4M951.3 534.5V545.9M956.6 519.7V525.1M956.6 530.5V535.0M961.8 519.2V523.1M961.8 524.3V528.6M967.1 508.8V512.5M967.1 523.8V524.1M972.3 491.2V501.5M972.3 512.4V513.3M982.8 475.3V475.8M982.8 506.6V513.3M988.1 442.9V451.1M988.1 475.5V478.9M993.3 447.3V449.1M993.3 450.3V475.8M1014.3 448.7V451.1M1014.3 464.1V472.8M1030.0 450.9V458.7M1030.0 471.3V471.9M1056.3 483.4V485.8M1056.3 490.3V503.9M1061.5 477.4V484.5M1061.5 485.7V495.5M1066.7 426.4V428.2M1066.7 485.2V485.6M1072.0 406.0V425.5M1072.0 428.2V435.8M1077.2 388.8V393.3M1077.2 425.4V428.6M1093.0 382.0V391.9M1093.0 407.5V424.1M1119.2 415.0V429.2M1119.2 442.5V453.9M1134.9 412.9V422.8M1134.9 432.6V437.6M1140.2 402.0V407.3M1140.2 422.6V423.7M1155.9 436.7V437.6M1155.9 442.5V454.8M1161.2 426.4V436.2M1161.2 437.4V438.6M1166.4 425.4V427.7M1166.4 436.7V446.7M1187.4 474.2V480.9M1187.4 482.3V497.7M1192.7 475.1V478.2M1192.7 480.5V492.3M1197.9 476.0V476.4M1197.9 477.6V491.4M1203.1 466.6V475.5M1203.1 476.7V480.0M1218.9 488.7V492.3M1218.9 513.6V515.8M1224.1 476.9V484.7M1224.1 492.6V495.0M1234.6 467.9V469.3M1234.6 487.8V492.8M1239.9 437.5V440.4M1239.9 469.3V470.2M1266.1 499.2V500.4M1266.1 505.3V510.0M1271.3 475.1V492.3M1271.3 500.4V504.0M1281.8 502.2V506.7M1281.8 510.0V521.6M1308.1 511.3V515.4M1308.1 554.3V562.8M1313.3 487.2V497.3M1313.3 514.9V515.4M1329.0 502.2V508.6M1329.0 511.3V518.0M1334.3 496.3V497.7M1334.3 508.2V509.5M1339.5 483.2V488.3M1339.5 497.3V502.2M1355.3 483.8V493.2M1355.3 512.5V518.0M1360.5 477.5V489.6M1360.5 492.8V495.9M1371.0 502.2V502.8M1371.0 504.6V510.0M1376.3 488.7V495.5M1376.3 502.6V506.7M1386.8 479.6V480.5M1386.8 496.3V504.0M1392.0 468.8V473.3M1392.0 480.5V484.7M1397.2 443.8V445.2M1397.2 472.7V475.4M1402.5 428.4V442.9M1402.5 444.1V451.0M1413.0 426.6V434.7M1413.0 448.6V449.7M1418.2 413.0V432.0M1418.2 434.7V435.6M1423.5 420.3V423.0M1423.5 431.5V447.4M1428.7 400.0V408.5M1428.7 422.6V430.2M1434.0 374.1V378.1M1434.0 408.5V416.6M1444.5 365.1V369.3M1444.5 381.4V387.3M1449.7 335.6V349.7M1449.7 368.7V369.6M1455.0 328.9V345.2M1455.0 349.4V355.2M1460.2 334.0V341.6M1460.2 344.7V362.9M1475.9 366.4V371.4M1475.9 379.2V394.0M1481.2 362.9V368.4M1481.2 370.9V373.2M1486.4 348.5V350.6M1486.4 368.4V369.3M1523.2 415.2V417.7M1523.2 434.3V439.7M1528.4 394.8V399.0M1528.4 417.2V417.7M1538.9 402.3V409.1M1538.9 415.2V424.8M1544.1 366.2V367.2M1544.1 408.6V411.0M1549.4 335.1V337.4M1549.4 366.6V375.2M1554.6 295.6V296.6M1554.6 337.4V338.4M1559.9 283.0V294.5M1559.9 296.4V311.3M1570.4 256.9V272.2M1570.4 313.6V314.7" stroke="#089981" stroke-width="1.25" fill="none"/>
<path d="M1.8 564.8V569.3M1.8 576.5V583.8M12.3 556.6V560.3M12.3 563.5V566.6M22.8 542.2V543.4M22.8 552.7V558.4M33.3 542.2V544.0M33.3 566.0V577.8M43.8 539.5V556.6M43.8 573.3V585.6M49.0 566.6V573.8M49.0 578.3V584.7M54.3 572.9V577.7M54.3 578.9V583.8M75.3 527.7V529.5M75.3 563.5V565.7M80.5 552.1V564.2M80.5 569.3V572.5M85.7 563.9V569.3M85.7 571.5V574.7M91.0 570.2V571.5M91.0 587.4V595.5M96.2 582.0V587.4M96.2 606.4V613.6M138.2 442.1V453.5M138.2 480.5V489.1M143.5 468.3V480.5M143.5 494.9V508.1M148.7 483.7V495.5M148.7 510.1V515.7M164.4 454.8V464.7M164.4 485.5V492.7M174.9 439.9V444.3M174.9 461.5V467.8M180.2 442.1V462.4M180.2 472.9V478.3M206.4 353.9V379.2M206.4 392.7V396.9M211.7 381.2V392.2M211.7 393.4V419.9M222.1 361.6V362.5M222.1 379.2V388.8M237.9 353.0V355.7M237.9 357.1V368.0M248.4 224.1V240.4M248.4 258.5V284.7M253.6 220.2V257.9M253.6 259.1V266.6M258.9 242.6V258.9M258.9 275.1V286.5M269.4 214.2V229.6M269.4 246.7V251.6M279.8 207.0V226.5M279.8 290.7V337.5M285.1 264.3V291.4M285.1 293.8V327.9M300.8 156.3V181.6M300.8 183.5V204.2M316.6 158.1V180.4M316.6 186.7V191.6M321.8 182.2V187.1M321.8 199.7V206.4M327.1 192.0V199.4M327.1 246.4V248.6M332.3 232.3V246.4M332.3 281.5V301.9M342.8 244.9V271.5M342.8 293.8V300.1M348.0 281.1V293.1M348.0 294.3V308.8M363.8 233.9V237.5M363.8 252.9V257.4M369.0 248.9V253.5M369.0 284.0V288.5M374.3 266.5V284.6M374.3 304.5V307.7M384.8 296.7V297.6M384.8 316.2V319.8M390.0 299.9V316.8M390.0 324.3V333.4M395.3 311.7V324.3M395.3 334.8V338.8M421.5 263.2V266.8M421.5 268.0V280.0M432.0 262.5V263.2M432.0 307.5V311.3M437.2 300.8V307.5M437.2 325.6V342.8M442.5 320.2V326.5M442.5 341.5V351.8M453.0 321.3V329.3M453.0 330.5V337.9M458.2 328.0V330.3M458.2 337.9V342.8M463.5 326.5V338.5M463.5 348.4V380.8M489.7 233.4V242.4M489.7 259.2V271.0M510.7 209.0V218.0M510.7 239.0V242.1M521.2 220.9V233.4M521.2 240.3V245.7M526.4 236.1V240.8M526.4 244.4V248.4M531.7 222.2V243.7M531.7 244.9V245.7M536.9 242.1V246.2M536.9 257.4V291.8M542.1 248.9V257.4M542.1 284.6V289.4M563.1 228.0V241.2M563.1 278.2V281.9M568.4 271.0V278.8M568.4 325.6V348.8M578.9 299.9V302.3M578.9 334.8V348.8M584.1 329.0V335.3M584.1 351.2V355.2M589.4 335.9V352.0M589.4 364.2V367.9M594.6 337.1V365.2M594.6 368.8V381.8M605.1 355.2V367.5M605.1 371.5V389.6M615.6 338.0V360.6M615.6 363.7V371.5M626.1 350.7V351.6M626.1 365.2V373.3M636.6 341.1V347.6M636.6 355.2V360.6M641.8 350.1V356.1M641.8 361.5V365.2M652.3 351.2V353.4M652.3 380.2V393.7M668.1 355.2V371.5M668.1 390.5V397.7M678.5 374.7V382.9M678.5 385.6V390.8M683.8 382.7V386.3M683.8 445.0V450.8M694.3 431.5V444.1M694.3 445.4V461.3M699.5 431.5V445.6M699.5 449.6V457.7M704.8 445.9V449.6M704.8 456.8V495.3M710.0 448.7V457.3M710.0 458.6V473.1M720.5 388.6V391.3M720.5 467.6V469.1M741.5 388.1V399.8M741.5 427.0V431.5M746.7 424.2V427.9M746.7 444.1V448.3M752.0 441.4V445.0M752.0 485.4V490.8M757.2 464.0V485.7M757.2 521.0V528.2M773.0 491.5V496.2M773.0 509.2V518.6M788.7 474.5V479.8M788.7 498.4V502.5M799.2 472.4V478.7M799.2 482.7V495.5M809.7 447.1V451.6M809.7 473.3V475.1M814.9 468.8V474.6M814.9 481.1V484.7M841.2 425.0V441.1M841.2 445.3V453.4M851.7 436.2V438.0M851.7 472.4V479.6M856.9 472.4V473.3M856.9 493.5V498.1M862.2 483.2V493.5M862.2 497.2V503.7M877.9 468.1V478.6M877.9 512.4V515.7M883.1 500.1V511.8M883.1 513.0V532.7M893.6 508.5V512.4M893.6 514.8V523.7M898.9 511.2V515.2M898.9 568.0V578.1M909.4 546.4V562.5M909.4 580.8V586.2M919.9 520.2V521.5M919.9 540.1V554.0M935.6 503.0V505.6M935.6 521.5V528.7M946.1 515.2V522.4M946.1 534.5V535.0M977.6 488.5V501.5M977.6 506.6V510.6M998.6 442.0V450.5M998.6 453.6V459.6M1003.8 443.7V453.5M1003.8 454.7V459.6M1009.0 448.4V455.4M1009.0 464.1V468.2M1019.5 444.7V451.1M1019.5 462.8V465.9M1024.8 458.1V462.8M1024.8 471.3V484.3M1035.3 450.9V458.7M1035.3 461.4V462.3M1040.5 460.5V461.4M1040.5 472.8V474.9M1045.8 472.2V473.1M1045.8 484.3V484.9M1051.0 474.0V484.3M1051.0 490.3V494.8M1082.5 390.6V393.3M1082.5 398.2V417.8M1087.7 377.4V398.2M1087.7 407.5V424.4M1098.2 387.9V391.9M1098.2 400.2V408.7M1103.5 395.2V400.6M1103.5 423.7V433.1M1108.7 411.1V424.4M1108.7 431.7V435.5M1114.0 430.4V431.7M1114.0 442.5V449.0M1124.5 425.0V428.2M1124.5 430.4V455.7M1129.7 413.8V431.3M1129.7 432.6V444.9M1145.4 397.0V407.3M1145.4 437.6V439.5M1150.7 427.2V437.6M1150.7 442.5V444.9M1171.7 420.8V427.5M1171.7 433.1V443.1M1176.9 420.3V433.5M1176.9 450.1V451.0M1182.2 448.5V451.2M1182.2 482.3V486.3M1208.4 466.1V476.5M1208.4 484.5V487.8M1213.6 478.4V484.7M1213.6 513.6V520.8M1229.4 481.4V485.0M1229.4 488.1V492.6M1245.1 434.1V440.4M1245.1 454.7V457.9M1250.4 453.0V455.2M1250.4 480.2V484.7M1255.6 479.6V480.5M1255.6 496.4V517.6M1260.9 495.5V496.4M1260.9 505.3V514.9M1276.6 485.9V493.2M1276.6 510.0V515.8M1287.1 497.7V506.4M1287.1 507.6V512.7M1292.3 501.3V507.3M1292.3 525.7V533.0M1297.6 518.1V526.3M1297.6 541.1V552.9M1302.8 535.3V541.5M1302.8 554.3V580.0M1318.6 494.1V497.3M1318.6 505.3V510.0M1323.8 492.8V505.5M1323.8 511.3V513.1M1344.8 485.9V488.3M1344.8 498.6V505.8M1350.0 496.3V498.6M1350.0 512.5V515.8M1365.8 485.9V489.6M1365.8 504.6V511.3M1381.5 487.2V495.0M1381.5 496.3V502.2M1407.7 438.9V444.3M1407.7 448.6V460.0M1439.2 351.5V377.8M1439.2 381.4V393.1M1465.4 338.9V341.6M1465.4 373.8V387.2M1470.7 361.8V374.1M1470.7 379.2V395.8M1491.7 343.0V350.6M1491.7 374.7V378.3M1496.9 363.4V375.2M1496.9 380.9V388.5M1502.2 379.0V381.9M1502.2 383.4V405.7M1507.4 372.3V384.7M1507.4 402.5V405.7M1512.7 399.4V402.8M1512.7 423.8V434.3M1517.9 418.7V424.2M1517.9 434.9V440.4M1533.6 396.7V398.6M1533.6 415.2V423.8M1565.1 284.6V294.5M1565.1 313.2V318.0" stroke="#F23645" stroke-width="1.25" fill="none"/>
<path d="M5.6 561.2h3V576.3h-3zM16.0 544.9h3V562.9h-3zM26.5 544.6h3V552.1h-3zM37.0 557.2h3V565.4h-3zM58.0 572.1h3V578.1h-3zM63.3 550.0h3V570.9h-3zM68.5 530.1h3V548.8h-3zM100.0 585.3h3V605.8h-3zM105.2 537.3h3V583.2h-3zM110.5 523.4h3V535.8h-3zM115.7 489.8h3V522.2h-3zM121.0 487.0h3V488.2h-3zM126.2 472.9h3V485.3h-3zM131.5 454.1h3V471.7h-3zM152.4 485.6h3V509.5h-3zM157.7 465.3h3V484.0h-3zM168.2 444.9h3V485.3h-3zM183.9 455.0h3V472.3h-3zM189.2 411.6h3V454.2h-3zM194.4 392.1h3V410.2h-3zM199.7 379.8h3V390.9h-3zM215.4 363.1h3V392.3h-3zM225.9 372.2h3V378.6h-3zM231.1 355.9h3V371.0h-3zM241.6 241.0h3V356.6h-3zM262.6 230.2h3V273.8h-3zM273.1 227.1h3V246.5h-3zM288.8 260.0h3V293.2h-3zM294.1 183.1h3V258.8h-3zM304.6 182.8h3V182.9h-3zM309.8 181.0h3V181.0h-3zM336.1 271.8h3V280.9h-3zM351.8 253.0h3V293.9h-3zM357.0 238.1h3V250.9h-3zM378.0 297.3h3V303.9h-3zM399.0 302.0h3V334.2h-3zM404.3 296.0h3V301.1h-3zM409.5 269.8h3V294.3h-3zM414.7 267.4h3V267.4h-3zM425.2 263.8h3V266.8h-3zM446.2 329.8h3V340.9h-3zM467.2 329.1h3V348.2h-3zM472.5 295.1h3V327.7h-3zM477.7 277.9h3V293.6h-3zM482.9 243.0h3V276.4h-3zM493.4 256.2h3V258.6h-3zM498.7 243.6h3V254.5h-3zM503.9 217.9h3V241.8h-3zM514.4 234.0h3V238.4h-3zM545.9 267.1h3V284.0h-3zM551.1 253.2h3V265.5h-3zM556.4 241.8h3V252.0h-3zM572.1 302.9h3V325.0h-3zM598.4 367.4h3V367.4h-3zM608.8 361.2h3V370.9h-3zM619.3 352.6h3V362.7h-3zM629.8 348.6h3V364.6h-3zM645.6 354.0h3V360.9h-3zM656.1 378.4h3V379.6h-3zM661.3 372.1h3V376.9h-3zM671.8 383.5h3V389.9h-3zM687.5 444.7h3V444.8h-3zM713.8 391.9h3V457.6h-3zM724.3 457.0h3V466.7h-3zM729.5 415.8h3V454.4h-3zM734.8 400.1h3V413.7h-3zM761.0 507.1h3V520.4h-3zM766.2 496.3h3V505.0h-3zM776.7 491.2h3V508.6h-3zM782.0 480.4h3V489.3h-3zM792.5 479.3h3V498.0h-3zM802.9 452.2h3V481.7h-3zM818.7 474.3h3V480.5h-3zM823.9 467.6h3V472.1h-3zM829.2 448.9h3V465.8h-3zM834.4 441.0h3V447.4h-3zM844.9 438.6h3V444.7h-3zM865.9 495.2h3V496.6h-3zM871.1 479.3h3V493.8h-3zM886.9 512.0h3V512.0h-3zM902.6 563.1h3V567.4h-3zM913.1 522.1h3V580.2h-3zM923.6 522.1h3V539.5h-3zM928.9 506.2h3V520.9h-3zM939.3 521.9h3V521.9h-3zM949.8 532.0h3V533.9h-3zM955.1 525.7h3V529.9h-3zM960.3 523.7h3V523.7h-3zM965.6 513.1h3V523.2h-3zM970.8 502.1h3V511.8h-3zM981.3 476.4h3V506.0h-3zM986.6 451.7h3V474.9h-3zM991.8 449.7h3V449.7h-3zM1012.8 451.7h3V463.5h-3zM1028.5 459.3h3V470.7h-3zM1054.8 486.4h3V489.7h-3zM1060.0 485.1h3V485.1h-3zM1065.2 428.8h3V484.6h-3zM1070.5 426.1h3V427.6h-3zM1075.7 393.9h3V424.8h-3zM1091.5 392.5h3V406.9h-3zM1117.7 429.8h3V441.9h-3zM1133.4 423.4h3V432.0h-3zM1138.7 407.9h3V422.0h-3zM1154.4 438.2h3V441.9h-3zM1159.7 436.8h3V436.8h-3zM1164.9 428.3h3V436.1h-3zM1185.9 481.5h3V481.7h-3zM1191.2 478.8h3V479.9h-3zM1196.4 477.0h3V477.0h-3zM1201.6 476.1h3V476.1h-3zM1217.4 492.9h3V513.0h-3zM1222.6 485.3h3V492.0h-3zM1233.1 469.9h3V487.2h-3zM1238.4 441.0h3V468.7h-3zM1264.6 501.0h3V504.7h-3zM1269.8 492.9h3V499.8h-3zM1280.3 507.3h3V509.4h-3zM1306.6 516.0h3V553.7h-3zM1311.8 497.9h3V514.3h-3zM1327.5 509.2h3V510.7h-3zM1332.8 498.3h3V507.6h-3zM1338.0 488.9h3V496.7h-3zM1353.8 493.8h3V511.9h-3zM1359.0 490.2h3V492.2h-3zM1369.5 503.4h3V504.0h-3zM1374.8 496.1h3V502.0h-3zM1385.3 481.1h3V495.7h-3zM1390.5 473.9h3V479.9h-3zM1395.7 445.8h3V472.1h-3zM1401.0 443.5h3V443.5h-3zM1411.5 435.3h3V448.0h-3zM1416.7 432.6h3V434.1h-3zM1422.0 423.6h3V430.9h-3zM1427.2 409.1h3V422.0h-3zM1432.5 378.7h3V407.9h-3zM1443.0 369.9h3V380.8h-3zM1448.2 350.3h3V368.1h-3zM1453.5 345.8h3V348.8h-3zM1458.7 342.2h3V344.1h-3zM1474.4 372.0h3V378.6h-3zM1479.7 369.0h3V370.3h-3zM1484.9 351.2h3V367.8h-3zM1521.7 418.3h3V433.7h-3zM1526.9 399.6h3V416.6h-3zM1537.4 409.7h3V414.6h-3zM1542.6 367.8h3V408.0h-3zM1547.9 338.0h3V366.0h-3zM1553.1 297.2h3V336.8h-3zM1558.4 295.1h3V295.8h-3zM1568.9 272.8h3V313.0h-3z" fill="#089981" stroke="#000" stroke-width="1.3"/>
<path d="M0.3 569.9h3V575.9h-3zM10.8 560.9h3V562.9h-3zM21.3 544.0h3V552.1h-3zM31.8 544.6h3V565.4h-3zM42.3 557.2h3V572.7h-3zM47.5 574.4h3V577.7h-3zM52.8 578.3h3V578.3h-3zM73.8 530.1h3V562.9h-3zM79.0 564.8h3V568.7h-3zM84.2 569.9h3V570.9h-3zM89.5 572.1h3V586.8h-3zM94.7 588.0h3V605.8h-3zM136.7 454.1h3V479.9h-3zM142.0 481.1h3V494.3h-3zM147.2 496.1h3V509.5h-3zM162.9 465.3h3V484.9h-3zM173.4 444.9h3V460.9h-3zM178.7 463.0h3V472.3h-3zM204.9 379.8h3V392.1h-3zM210.2 392.8h3V392.8h-3zM220.6 363.1h3V378.6h-3zM236.4 356.3h3V356.5h-3zM246.9 241.0h3V257.9h-3zM252.1 258.5h3V258.5h-3zM257.4 259.5h3V274.5h-3zM267.9 230.2h3V246.1h-3zM278.3 227.1h3V290.1h-3zM283.6 292.0h3V293.2h-3zM299.3 182.2h3V182.9h-3zM315.1 181.0h3V186.1h-3zM320.3 187.7h3V199.1h-3zM325.6 200.0h3V245.8h-3zM330.8 247.0h3V280.9h-3zM341.3 272.1h3V293.2h-3zM346.5 293.7h3V293.7h-3zM362.3 238.1h3V252.3h-3zM367.5 254.1h3V283.4h-3zM372.8 285.2h3V303.9h-3zM383.3 298.2h3V315.6h-3zM388.5 317.4h3V323.7h-3zM393.8 324.9h3V334.2h-3zM420.0 267.4h3V267.4h-3zM430.5 263.8h3V306.9h-3zM435.7 308.1h3V325.0h-3zM441.0 327.1h3V340.9h-3zM451.5 329.9h3V329.9h-3zM456.7 330.9h3V337.3h-3zM462.0 339.1h3V347.8h-3zM488.2 243.0h3V258.6h-3zM509.2 218.6h3V238.4h-3zM519.7 234.0h3V239.7h-3zM524.9 241.4h3V243.8h-3zM530.2 244.3h3V244.3h-3zM535.4 246.8h3V256.8h-3zM540.6 258.0h3V284.0h-3zM561.6 241.8h3V277.6h-3zM566.9 279.4h3V325.0h-3zM577.4 302.9h3V334.2h-3zM582.6 335.9h3V350.6h-3zM587.9 352.6h3V363.6h-3zM593.1 365.8h3V368.2h-3zM603.6 368.1h3V370.9h-3zM614.1 361.2h3V363.1h-3zM624.6 352.2h3V364.6h-3zM635.1 348.2h3V354.6h-3zM640.3 356.7h3V360.9h-3zM650.8 354.0h3V379.6h-3zM666.6 372.1h3V389.9h-3zM677.0 383.5h3V385.0h-3zM682.3 386.9h3V444.4h-3zM692.8 444.7h3V444.8h-3zM698.0 446.2h3V449.0h-3zM703.3 450.2h3V456.2h-3zM708.5 457.9h3V458.0h-3zM719.0 391.9h3V467.0h-3zM740.0 400.4h3V426.4h-3zM745.2 428.5h3V443.5h-3zM750.5 445.6h3V484.8h-3zM755.7 486.3h3V520.4h-3zM771.5 496.8h3V508.6h-3zM787.2 480.4h3V497.8h-3zM797.7 479.3h3V482.1h-3zM808.2 452.2h3V472.7h-3zM813.4 475.2h3V480.5h-3zM839.7 441.7h3V444.7h-3zM850.2 438.6h3V471.8h-3zM855.4 473.9h3V492.9h-3zM860.7 494.1h3V496.6h-3zM876.4 479.2h3V511.8h-3zM881.6 512.4h3V512.4h-3zM892.1 513.0h3V514.2h-3zM897.4 515.8h3V567.4h-3zM907.9 563.1h3V580.2h-3zM918.4 522.1h3V539.5h-3zM934.1 506.2h3V520.9h-3zM944.6 523.0h3V533.9h-3zM976.1 502.1h3V506.0h-3zM997.1 451.1h3V453.0h-3zM1002.3 454.1h3V454.1h-3zM1007.5 456.0h3V463.5h-3zM1018.0 451.7h3V462.2h-3zM1023.3 463.4h3V470.7h-3zM1033.8 459.3h3V460.8h-3zM1039.0 462.0h3V472.2h-3zM1044.3 473.7h3V483.7h-3zM1049.5 484.9h3V489.7h-3zM1081.0 393.9h3V397.6h-3zM1086.2 398.8h3V406.9h-3zM1096.7 392.5h3V399.6h-3zM1102.0 401.2h3V423.1h-3zM1107.2 425.0h3V431.1h-3zM1112.5 432.3h3V441.9h-3zM1123.0 428.8h3V429.8h-3zM1128.2 431.9h3V432.0h-3zM1143.9 407.9h3V437.0h-3zM1149.2 438.2h3V441.9h-3zM1170.2 428.1h3V432.5h-3zM1175.4 434.1h3V449.5h-3zM1180.7 451.8h3V481.7h-3zM1206.9 477.1h3V483.9h-3zM1212.1 485.3h3V513.0h-3zM1227.9 485.6h3V487.5h-3zM1243.6 441.0h3V454.1h-3zM1248.9 455.8h3V479.6h-3zM1254.1 481.1h3V495.8h-3zM1259.4 497.0h3V504.7h-3zM1275.1 493.8h3V509.4h-3zM1285.6 507.0h3V507.0h-3zM1290.8 507.9h3V525.1h-3zM1296.1 526.9h3V540.5h-3zM1301.3 542.1h3V553.7h-3zM1317.1 497.9h3V504.7h-3zM1322.3 506.1h3V510.7h-3zM1343.3 488.9h3V498.0h-3zM1348.5 499.2h3V511.9h-3zM1364.3 490.2h3V504.0h-3zM1380.0 495.6h3V495.7h-3zM1406.2 444.9h3V448.0h-3zM1437.7 378.4h3V380.8h-3zM1463.9 342.2h3V373.2h-3zM1469.2 374.7h3V378.6h-3zM1490.2 351.2h3V374.1h-3zM1495.4 375.8h3V380.3h-3zM1500.7 382.5h3V382.8h-3zM1505.9 385.3h3V401.9h-3zM1511.2 403.4h3V423.2h-3zM1516.4 424.8h3V434.3h-3zM1532.1 399.2h3V414.6h-3zM1563.6 295.1h3V312.6h-3z" fill="#F23645" stroke="#000" stroke-width="1.3"/>
<path d="M1585.6 269.9L1617.2 217.2L1659.4 343.4L1706.6 149.6L1743.1 227.6L1791.3 79.3M1772.9 88.6L1791.3 79.3L1800 96.7" fill="none" stroke="#000" stroke-width="2.7" stroke-linejoin="round" stroke-linecap="round"/>
<defs><linearGradient id="ob" gradientUnits="userSpaceOnUse" x1="0" y1="672" x2="0" y2="706"><stop offset="0" stop-color="#4CAF50" stop-opacity="0.45"/><stop offset="1" stop-color="#4CAF50" stop-opacity="0"/></linearGradient><linearGradient id="os" gradientUnits="userSpaceOnUse" x1="0" y1="790" x2="0" y2="776"><stop offset="0" stop-color="#FF5252" stop-opacity="0.3"/><stop offset="1" stop-color="#FF5252" stop-opacity="0"/></linearGradient><clipPath id="cob"><rect x="0" y="672" width="1946" height="34.3"/></clipPath><clipPath id="cos"><rect x="0" y="776.1" width="1946" height="20"/></clipPath></defs>
<polygon points="1.8,706.3 1.8,744.7 7.1,735.7 12.3,737.5 17.5,727.2 22.8,732.8 28.0,728.2 33.3,741.8 38.5,736.7 43.8,745.8 49.0,748.3 54.3,748.5 59.5,743.9 64.8,731.3 70.0,721.6 75.3,741.4 80.5,744.1 85.7,745.1 91.0,752.4 96.2,759.8 101.5,748.5 106.7,728.0 112.0,722.9 117.2,712.0 122.5,711.2 127.7,706.9 133.0,701.5 138.2,718.5 143.5,726.0 148.7,733.1 153.9,724.3 159.2,717.8 164.4,728.0 169.7,715.5 174.9,723.7 180.2,728.7 185.4,722.9 190.7,710.9 195.9,706.1 201.2,703.2 206.4,711.0 211.7,711.3 216.9,703.2 222.1,712.9 227.4,710.7 232.6,706.2 237.9,707.4 243.1,684.1 248.4,695.0 253.6,695.2 258.9,704.6 264.1,695.5 269.4,704.8 274.6,700.6 279.8,727.5 285.1,728.5 290.3,720.3 295.6,704.8 300.8,705.2 306.1,705.0 311.3,704.6 316.6,708.0 321.8,714.6 327.1,733.5 332.3,743.8 337.6,740.9 342.8,747.0 348.0,747.1 353.3,734.8 358.5,730.6 363.8,735.9 369.0,745.2 374.3,750.4 379.5,748.0 384.8,753.0 390.0,754.9 395.3,757.4 400.5,746.3 405.8,744.4 411.0,735.8 416.2,735.1 421.5,735.4 426.7,733.7 432.0,749.9 437.2,755.0 442.5,759.1 447.7,754.5 453.0,754.8 458.2,757.1 463.5,760.1 468.7,751.5 474.0,738.1 479.2,731.9 484.4,720.4 489.7,728.2 494.9,727.0 500.2,722.7 505.4,714.6 510.7,725.7 515.9,723.9 521.2,727.3 526.4,729.4 531.7,729.6 536.9,736.2 542.1,748.1 547.4,740.2 552.6,734.4 557.9,729.8 563.1,745.9 568.4,759.8 573.6,751.4 578.9,759.6 584.1,763.1 589.4,765.8 594.6,766.7 599.9,766.0 605.1,767.0 610.3,762.3 615.6,763.2 620.8,757.8 626.1,761.8 631.3,753.8 636.6,756.2 641.8,758.4 647.1,754.3 652.3,763.1 657.6,762.0 662.8,758.6 668.1,764.9 673.3,760.8 678.5,761.8 683.8,777.4 689.0,776.9 694.3,777.2 699.5,778.1 704.8,779.8 710.0,780.2 715.3,745.7 720.5,766.2 725.8,762.3 731.0,748.4 736.2,743.3 741.5,751.0 746.7,755.2 752.0,763.7 757.2,769.5 762.5,765.3 767.7,762.0 773.0,764.5 778.2,758.6 783.5,755.0 788.7,759.3 794.0,752.7 799.2,753.8 804.4,743.2 809.7,749.5 814.9,751.7 820.2,749.0 825.4,746.6 830.7,739.7 835.9,736.7 841.2,738.8 846.4,735.9 851.7,749.3 856.9,755.8 862.2,756.9 867.4,755.7 872.6,748.7 877.9,759.4 883.1,759.5 888.4,758.9 893.6,760.0 898.9,773.6 904.1,771.2 909.4,775.1 914.6,751.0 919.9,756.1 925.1,749.3 930.4,743.6 935.6,748.8 940.8,748.8 946.1,752.9 951.3,751.7 956.6,748.9 961.8,748.0 967.1,743.0 972.3,737.9 977.6,740.4 982.8,726.7 988.1,717.4 993.3,716.7 998.6,719.6 1003.8,720.4 1009.0,726.8 1014.3,720.8 1019.5,728.8 1024.8,734.1 1030.0,727.8 1035.3,729.6 1040.5,736.9 1045.8,743.6 1051.0,746.9 1056.3,744.1 1061.5,743.4 1066.7,714.8 1072.0,713.7 1077.2,702.4 1082.5,706.3 1087.7,713.4 1093.0,707.7 1098.2,714.1 1103.5,729.5 1108.7,733.9 1114.0,739.6 1119.2,733.2 1124.5,734.0 1129.7,735.3 1134.9,730.1 1140.2,722.4 1145.4,740.7 1150.7,743.2 1155.9,740.6 1161.2,739.9 1166.4,735.0 1171.7,738.5 1176.9,748.3 1182.2,762.1 1187.4,761.3 1192.7,759.6 1197.9,758.5 1203.1,757.8 1208.4,762.1 1213.6,773.3 1218.9,759.4 1224.1,754.7 1229.4,756.3 1234.6,744.7 1239.9,729.7 1245.1,737.8 1250.4,749.7 1255.6,755.9 1260.9,759.0 1266.1,756.4 1271.3,752.0 1276.6,758.9 1281.8,757.1 1287.1,757.5 1292.3,764.4 1297.6,769.5 1302.8,773.4 1308.1,752.1 1313.3,743.6 1318.6,747.0 1323.8,749.5 1329.0,748.1 1334.3,742.3 1339.5,737.4 1344.8,743.0 1350.0,749.8 1355.3,739.5 1360.5,737.7 1365.8,745.6 1371.0,744.6 1376.3,740.4 1381.5,740.9 1386.8,731.7 1392.0,727.8 1397.2,714.3 1402.5,713.3 1407.7,718.2 1413.0,711.8 1418.2,710.6 1423.5,706.6 1428.7,700.7 1434.0,690.8 1439.2,694.2 1444.5,690.6 1449.7,685.4 1455.0,684.4 1460.2,683.5 1465.4,714.4 1470.7,718.5 1475.9,715.1 1481.2,713.8 1486.4,706.4 1491.7,724.9 1496.9,729.0 1502.2,730.6 1507.4,742.0 1512.7,752.2 1517.9,756.7 1523.2,747.4 1528.4,738.0 1533.6,745.8 1538.9,742.7 1544.1,724.3 1549.4,714.0 1554.6,702.4 1559.9,701.9 1565.1,713.8 1570.4,702.7 1570.4,706.3" fill="url(#ob)" clip-path="url(#cob)"/>
<polygon points="1.8,776.1 1.8,744.7 7.1,735.7 12.3,737.5 17.5,727.2 22.8,732.8 28.0,728.2 33.3,741.8 38.5,736.7 43.8,745.8 49.0,748.3 54.3,748.5 59.5,743.9 64.8,731.3 70.0,721.6 75.3,741.4 80.5,744.1 85.7,745.1 91.0,752.4 96.2,759.8 101.5,748.5 106.7,728.0 112.0,722.9 117.2,712.0 122.5,711.2 127.7,706.9 133.0,701.5 138.2,718.5 143.5,726.0 148.7,733.1 153.9,724.3 159.2,717.8 164.4,728.0 169.7,715.5 174.9,723.7 180.2,728.7 185.4,722.9 190.7,710.9 195.9,706.1 201.2,703.2 206.4,711.0 211.7,711.3 216.9,703.2 222.1,712.9 227.4,710.7 232.6,706.2 237.9,707.4 243.1,684.1 248.4,695.0 253.6,695.2 258.9,704.6 264.1,695.5 269.4,704.8 274.6,700.6 279.8,727.5 285.1,728.5 290.3,720.3 295.6,704.8 300.8,705.2 306.1,705.0 311.3,704.6 316.6,708.0 321.8,714.6 327.1,733.5 332.3,743.8 337.6,740.9 342.8,747.0 348.0,747.1 353.3,734.8 358.5,730.6 363.8,735.9 369.0,745.2 374.3,750.4 379.5,748.0 384.8,753.0 390.0,754.9 395.3,757.4 400.5,746.3 405.8,744.4 411.0,735.8 416.2,735.1 421.5,735.4 426.7,733.7 432.0,749.9 437.2,755.0 442.5,759.1 447.7,754.5 453.0,754.8 458.2,757.1 463.5,760.1 468.7,751.5 474.0,738.1 479.2,731.9 484.4,720.4 489.7,728.2 494.9,727.0 500.2,722.7 505.4,714.6 510.7,725.7 515.9,723.9 521.2,727.3 526.4,729.4 531.7,729.6 536.9,736.2 542.1,748.1 547.4,740.2 552.6,734.4 557.9,729.8 563.1,745.9 568.4,759.8 573.6,751.4 578.9,759.6 584.1,763.1 589.4,765.8 594.6,766.7 599.9,766.0 605.1,767.0 610.3,762.3 615.6,763.2 620.8,757.8 626.1,761.8 631.3,753.8 636.6,756.2 641.8,758.4 647.1,754.3 652.3,763.1 657.6,762.0 662.8,758.6 668.1,764.9 673.3,760.8 678.5,761.8 683.8,777.4 689.0,776.9 694.3,777.2 699.5,778.1 704.8,779.8 710.0,780.2 715.3,745.7 720.5,766.2 725.8,762.3 731.0,748.4 736.2,743.3 741.5,751.0 746.7,755.2 752.0,763.7 757.2,769.5 762.5,765.3 767.7,762.0 773.0,764.5 778.2,758.6 783.5,755.0 788.7,759.3 794.0,752.7 799.2,753.8 804.4,743.2 809.7,749.5 814.9,751.7 820.2,749.0 825.4,746.6 830.7,739.7 835.9,736.7 841.2,738.8 846.4,735.9 851.7,749.3 856.9,755.8 862.2,756.9 867.4,755.7 872.6,748.7 877.9,759.4 883.1,759.5 888.4,758.9 893.6,760.0 898.9,773.6 904.1,771.2 909.4,775.1 914.6,751.0 919.9,756.1 925.1,749.3 930.4,743.6 935.6,748.8 940.8,748.8 946.1,752.9 951.3,751.7 956.6,748.9 961.8,748.0 967.1,743.0 972.3,737.9 977.6,740.4 982.8,726.7 988.1,717.4 993.3,716.7 998.6,719.6 1003.8,720.4 1009.0,726.8 1014.3,720.8 1019.5,728.8 1024.8,734.1 1030.0,727.8 1035.3,729.6 1040.5,736.9 1045.8,743.6 1051.0,746.9 1056.3,744.1 1061.5,743.4 1066.7,714.8 1072.0,713.7 1077.2,702.4 1082.5,706.3 1087.7,713.4 1093.0,707.7 1098.2,714.1 1103.5,729.5 1108.7,733.9 1114.0,739.6 1119.2,733.2 1124.5,734.0 1129.7,735.3 1134.9,730.1 1140.2,722.4 1145.4,740.7 1150.7,743.2 1155.9,740.6 1161.2,739.9 1166.4,735.0 1171.7,738.5 1176.9,748.3 1182.2,762.1 1187.4,761.3 1192.7,759.6 1197.9,758.5 1203.1,757.8 1208.4,762.1 1213.6,773.3 1218.9,759.4 1224.1,754.7 1229.4,756.3 1234.6,744.7 1239.9,729.7 1245.1,737.8 1250.4,749.7 1255.6,755.9 1260.9,759.0 1266.1,756.4 1271.3,752.0 1276.6,758.9 1281.8,757.1 1287.1,757.5 1292.3,764.4 1297.6,769.5 1302.8,773.4 1308.1,752.1 1313.3,743.6 1318.6,747.0 1323.8,749.5 1329.0,748.1 1334.3,742.3 1339.5,737.4 1344.8,743.0 1350.0,749.8 1355.3,739.5 1360.5,737.7 1365.8,745.6 1371.0,744.6 1376.3,740.4 1381.5,740.9 1386.8,731.7 1392.0,727.8 1397.2,714.3 1402.5,713.3 1407.7,718.2 1413.0,711.8 1418.2,710.6 1423.5,706.6 1428.7,700.7 1434.0,690.8 1439.2,694.2 1444.5,690.6 1449.7,685.4 1455.0,684.4 1460.2,683.5 1465.4,714.4 1470.7,718.5 1475.9,715.1 1481.2,713.8 1486.4,706.4 1491.7,724.9 1496.9,729.0 1502.2,730.6 1507.4,742.0 1512.7,752.2 1517.9,756.7 1523.2,747.4 1528.4,738.0 1533.6,745.8 1538.9,742.7 1544.1,724.3 1549.4,714.0 1554.6,702.4 1559.9,701.9 1565.1,713.8 1570.4,702.7 1570.4,776.1" fill="url(#os)" clip-path="url(#cos)"/>
<polyline points="1.8,745.5 7.1,744.8 12.3,744.2 17.5,742.9 22.8,742.0 28.0,740.8 33.3,740.5 38.5,739.9 43.8,739.9 49.0,740.1 54.3,740.3 59.5,740.2 64.8,739.1 70.0,737.4 75.3,737.2 80.5,737.8 85.7,738.3 91.0,740.1 96.2,742.1 101.5,743.5 106.7,742.5 112.0,741.5 117.2,739.1 122.5,736.5 127.7,733.5 133.0,730.5 138.2,729.5 143.5,729.9 148.7,729.3 153.9,727.9 159.2,725.9 164.4,724.2 169.7,721.0 174.9,719.2 180.2,719.3 185.4,719.3 190.7,719.2 195.9,718.8 201.2,718.6 206.4,719.3 211.7,718.8 216.9,717.1 222.1,715.7 227.4,714.7 232.6,713.9 237.9,712.4 243.1,710.2 248.4,708.1 253.6,705.7 258.9,704.4 264.1,703.3 269.4,703.2 274.6,703.0 279.8,704.2 285.1,705.4 290.3,706.7 295.6,706.1 300.8,705.7 306.1,705.6 311.3,705.4 316.6,707.1 321.8,708.5 327.1,711.3 332.3,714.1 337.6,717.3 342.8,720.3 348.0,723.6 353.3,724.1 358.5,724.3 363.8,725.4 369.0,728.3 374.3,731.5 379.5,734.6 384.8,738.0 390.0,741.4 395.3,744.5 400.5,745.4 405.8,745.4 411.0,745.1 416.2,744.2 421.5,743.4 426.7,743.3 432.0,744.7 437.2,746.0 442.5,747.0 447.7,747.3 453.0,747.8 458.2,748.1 463.5,748.5 468.7,748.1 474.0,747.5 479.2,746.6 484.4,745.5 489.7,745.0 494.9,744.4 500.2,743.6 505.4,741.1 510.7,739.0 515.9,736.5 521.2,734.5 526.4,732.7 531.7,730.8 536.9,729.0 542.1,728.8 547.4,729.0 552.6,729.1 557.9,729.8 563.1,731.1 568.4,733.4 573.6,735.5 578.9,738.7 584.1,741.3 589.4,744.3 594.6,747.1 599.9,749.8 605.1,752.4 610.3,754.3 615.6,755.4 620.8,756.6 626.1,758.6 631.3,760.3 636.6,761.0 641.8,760.9 647.1,761.1 652.3,761.4 657.6,761.3 662.8,760.8 668.1,760.7 673.3,760.3 678.5,759.9 683.8,761.0 689.0,762.0 694.3,763.4 699.5,764.5 704.8,766.4 710.0,768.1 715.3,767.2 720.5,768.1 725.8,768.0 731.0,767.0 736.2,765.9 741.5,764.9 746.7,764.5 752.0,764.7 757.2,764.1 762.5,763.3 767.7,762.2 773.0,761.2 778.2,759.7 783.5,757.9 788.7,758.9 794.0,757.9 799.2,757.3 804.4,756.9 809.7,757.4 814.9,757.4 820.2,757.0 825.4,755.8 830.7,753.6 835.9,751.6 841.2,749.9 846.4,747.9 851.7,747.2 856.9,747.3 862.2,747.1 867.4,747.3 872.6,746.9 877.9,748.1 883.1,748.8 888.4,749.3 893.6,750.1 898.9,752.1 904.1,754.3 909.4,757.0 914.6,757.9 919.9,759.4 925.1,759.4 930.4,758.5 935.6,757.9 940.8,757.4 946.1,757.7 951.3,757.2 956.6,756.4 961.8,755.6 967.1,754.4 972.3,751.9 977.6,749.7 982.8,746.2 988.1,743.8 993.3,741.0 998.6,738.9 1003.8,737.2 1009.0,735.7 1014.3,733.7 1019.5,731.9 1024.8,730.7 1030.0,729.2 1035.3,727.8 1040.5,727.4 1045.8,727.8 1051.0,728.3 1056.3,729.5 1061.5,731.4 1066.7,731.2 1072.0,730.8 1077.2,729.5 1082.5,728.1 1087.7,727.6 1093.0,726.0 1098.2,724.6 1103.5,724.7 1108.7,725.0 1114.0,725.2 1119.2,724.5 1124.5,723.6 1129.7,722.9 1134.9,722.0 1140.2,722.5 1145.4,724.5 1150.7,727.4 1155.9,729.8 1161.2,731.7 1166.4,733.7 1171.7,735.4 1176.9,736.8 1182.2,738.8 1187.4,740.3 1192.7,742.2 1197.9,744.0 1203.1,745.6 1208.4,747.9 1213.6,751.5 1218.9,752.8 1224.1,753.6 1229.4,754.8 1234.6,755.1 1239.9,754.7 1245.1,754.7 1250.4,754.8 1255.6,754.3 1260.9,754.2 1266.1,753.9 1271.3,753.5 1276.6,753.6 1281.8,753.2 1287.1,752.1 1292.3,752.4 1297.6,753.5 1302.8,754.7 1308.1,755.2 1313.3,756.2 1318.6,756.9 1323.8,756.9 1329.0,756.3 1334.3,755.1 1339.5,753.8 1344.8,753.1 1350.0,752.5 1355.3,751.2 1360.5,749.8 1365.8,748.5 1371.0,746.7 1376.3,744.3 1381.5,743.5 1386.8,742.7 1392.0,741.3 1397.2,738.8 1402.5,736.3 1407.7,734.6 1413.0,732.8 1418.2,730.4 1423.5,727.4 1428.7,724.6 1434.0,721.2 1439.2,717.6 1444.5,713.7 1449.7,709.8 1455.0,705.7 1460.2,702.3 1465.4,701.3 1470.7,701.6 1475.9,701.8 1481.2,701.4 1486.4,701.1 1491.7,702.1 1496.9,703.7 1502.2,705.8 1507.4,709.5 1512.7,713.6 1517.9,718.3 1523.2,722.8 1528.4,726.6 1533.6,731.0 1538.9,733.1 1544.1,733.5 1549.4,733.4 1554.6,732.6 1559.9,732.3 1565.1,731.5 1570.4,729.6" fill="none" stroke="#FDD835" stroke-width="1.25" stroke-linejoin="round"/>
<polyline points="1.8,744.7 7.1,735.7 12.3,737.5 17.5,727.2 22.8,732.8 28.0,728.2 33.3,741.8 38.5,736.7 43.8,745.8 49.0,748.3 54.3,748.5 59.5,743.9 64.8,731.3 70.0,721.6 75.3,741.4 80.5,744.1 85.7,745.1 91.0,752.4 96.2,759.8 101.5,748.5 106.7,728.0 112.0,722.9 117.2,712.0 122.5,711.2 127.7,706.9 133.0,701.5 138.2,718.5 143.5,726.0 148.7,733.1 153.9,724.3 159.2,717.8 164.4,728.0 169.7,715.5 174.9,723.7 180.2,728.7 185.4,722.9 190.7,710.9 195.9,706.1 201.2,703.2 206.4,711.0 211.7,711.3 216.9,703.2 222.1,712.9 227.4,710.7 232.6,706.2 237.9,707.4 243.1,684.1 248.4,695.0 253.6,695.2 258.9,704.6 264.1,695.5 269.4,704.8 274.6,700.6 279.8,727.5 285.1,728.5 290.3,720.3 295.6,704.8 300.8,705.2 306.1,705.0 311.3,704.6 316.6,708.0 321.8,714.6 327.1,733.5 332.3,743.8 337.6,740.9 342.8,747.0 348.0,747.1 353.3,734.8 358.5,730.6 363.8,735.9 369.0,745.2 374.3,750.4 379.5,748.0 384.8,753.0 390.0,754.9 395.3,757.4 400.5,746.3 405.8,744.4 411.0,735.8 416.2,735.1 421.5,735.4 426.7,733.7 432.0,749.9 437.2,755.0 442.5,759.1 447.7,754.5 453.0,754.8 458.2,757.1 463.5,760.1 468.7,751.5 474.0,738.1 479.2,731.9 484.4,720.4 489.7,728.2 494.9,727.0 500.2,722.7 505.4,714.6 510.7,725.7 515.9,723.9 521.2,727.3 526.4,729.4 531.7,729.6 536.9,736.2 542.1,748.1 547.4,740.2 552.6,734.4 557.9,729.8 563.1,745.9 568.4,759.8 573.6,751.4 578.9,759.6 584.1,763.1 589.4,765.8 594.6,766.7 599.9,766.0 605.1,767.0 610.3,762.3 615.6,763.2 620.8,757.8 626.1,761.8 631.3,753.8 636.6,756.2 641.8,758.4 647.1,754.3 652.3,763.1 657.6,762.0 662.8,758.6 668.1,764.9 673.3,760.8 678.5,761.8 683.8,777.4 689.0,776.9 694.3,777.2 699.5,778.1 704.8,779.8 710.0,780.2 715.3,745.7 720.5,766.2 725.8,762.3 731.0,748.4 736.2,743.3 741.5,751.0 746.7,755.2 752.0,763.7 757.2,769.5 762.5,765.3 767.7,762.0 773.0,764.5 778.2,758.6 783.5,755.0 788.7,759.3 794.0,752.7 799.2,753.8 804.4,743.2 809.7,749.5 814.9,751.7 820.2,749.0 825.4,746.6 830.7,739.7 835.9,736.7 841.2,738.8 846.4,735.9 851.7,749.3 856.9,755.8 862.2,756.9 867.4,755.7 872.6,748.7 877.9,759.4 883.1,759.5 888.4,758.9 893.6,760.0 898.9,773.6 904.1,771.2 909.4,775.1 914.6,751.0 919.9,756.1 925.1,749.3 930.4,743.6 935.6,748.8 940.8,748.8 946.1,752.9 951.3,751.7 956.6,748.9 961.8,748.0 967.1,743.0 972.3,737.9 977.6,740.4 982.8,726.7 988.1,717.4 993.3,716.7 998.6,719.6 1003.8,720.4 1009.0,726.8 1014.3,720.8 1019.5,728.8 1024.8,734.1 1030.0,727.8 1035.3,729.6 1040.5,736.9 1045.8,743.6 1051.0,746.9 1056.3,744.1 1061.5,743.4 1066.7,714.8 1072.0,713.7 1077.2,702.4 1082.5,706.3 1087.7,713.4 1093.0,707.7 1098.2,714.1 1103.5,729.5 1108.7,733.9 1114.0,739.6 1119.2,733.2 1124.5,734.0 1129.7,735.3 1134.9,730.1 1140.2,722.4 1145.4,740.7 1150.7,743.2 1155.9,740.6 1161.2,739.9 1166.4,735.0 1171.7,738.5 1176.9,748.3 1182.2,762.1 1187.4,761.3 1192.7,759.6 1197.9,758.5 1203.1,757.8 1208.4,762.1 1213.6,773.3 1218.9,759.4 1224.1,754.7 1229.4,756.3 1234.6,744.7 1239.9,729.7 1245.1,737.8 1250.4,749.7 1255.6,755.9 1260.9,759.0 1266.1,756.4 1271.3,752.0 1276.6,758.9 1281.8,757.1 1287.1,757.5 1292.3,764.4 1297.6,769.5 1302.8,773.4 1308.1,752.1 1313.3,743.6 1318.6,747.0 1323.8,749.5 1329.0,748.1 1334.3,742.3 1339.5,737.4 1344.8,743.0 1350.0,749.8 1355.3,739.5 1360.5,737.7 1365.8,745.6 1371.0,744.6 1376.3,740.4 1381.5,740.9 1386.8,731.7 1392.0,727.8 1397.2,714.3 1402.5,713.3 1407.7,718.2 1413.0,711.8 1418.2,710.6 1423.5,706.6 1428.7,700.7 1434.0,690.8 1439.2,694.2 1444.5,690.6 1449.7,685.4 1455.0,684.4 1460.2,683.5 1465.4,714.4 1470.7,718.5 1475.9,715.1 1481.2,713.8 1486.4,706.4 1491.7,724.9 1496.9,729.0 1502.2,730.6 1507.4,742.0 1512.7,752.2 1517.9,756.7 1523.2,747.4 1528.4,738.0 1533.6,745.8 1538.9,742.7 1544.1,724.3 1549.4,714.0 1554.6,702.4 1559.9,701.9 1565.1,713.8 1570.4,702.7" fill="none" stroke="#7E57C2" stroke-width="1.25" stroke-linejoin="round"/>
<path d="M-0.1 860.6h3.8v1.3h-3.8zM5.2 858.9h3.8v3.0h-3.8zM10.4 858.4h3.8v3.5h-3.8zM15.6 855.6h3.8v6.3h-3.8zM20.9 855.4h3.8v6.5h-3.8zM26.1 854.5h3.8v7.4h-3.8zM68.1 857.9h3.8v4.0h-3.8zM110.1 856.6h3.8v5.3h-3.8zM115.3 847.1h3.8v14.8h-3.8zM120.6 841.5h3.8v20.4h-3.8zM125.8 836.8h3.8v25.1h-3.8zM131.1 831.9h3.8v30.0h-3.8zM157.3 850.1h3.8v11.8h-3.8zM167.8 849.7h3.8v12.2h-3.8zM188.8 848.1h3.8v13.8h-3.8zM194.0 840.6h3.8v21.3h-3.8zM199.3 835.0h3.8v26.9h-3.8zM215.0 836.7h3.8v25.2h-3.8zM230.7 843.5h3.8v18.4h-3.8zM241.2 817.6h3.8v44.3h-3.8zM246.5 808.9h3.8v53.0h-3.8zM251.7 807.5h3.8v54.4h-3.8zM262.2 810.8h3.8v51.1h-3.8zM293.7 844.9h3.8v17.0h-3.8zM298.9 834.8h3.8v27.1h-3.8zM304.2 831.3h3.8v30.6h-3.8zM424.8 859.9h3.8v2.0h-3.8zM477.3 854.2h3.8v7.7h-3.8zM482.5 834.9h3.8v27.0h-3.8zM487.8 829.1h3.8v32.8h-3.8zM493.0 825.8h3.8v36.1h-3.8zM498.3 821.6h3.8v40.3h-3.8zM503.5 812.9h3.8v49.0h-3.8zM645.2 860.5h3.8v1.4h-3.8zM660.9 861.0h3.8v0.9h-3.8zM676.6 861.0h3.8v0.9h-3.8zM713.4 860.7h3.8v1.2h-3.8zM729.1 854.4h3.8v7.5h-3.8zM734.4 844.6h3.8v17.3h-3.8zM739.6 844.1h3.8v17.8h-3.8zM781.6 860.1h3.8v1.8h-3.8zM786.8 858.9h3.8v3.0h-3.8zM792.1 854.1h3.8v7.8h-3.8zM797.3 851.2h3.8v10.7h-3.8zM802.5 843.6h3.8v18.3h-3.8zM807.8 842.9h3.8v19.0h-3.8zM818.3 843.5h3.8v18.4h-3.8zM823.5 842.3h3.8v19.6h-3.8zM828.8 838.6h3.8v23.3h-3.8zM834.0 835.3h3.8v26.6h-3.8zM839.3 835.0h3.8v26.9h-3.8zM844.5 834.4h3.8v27.5h-3.8zM870.7 859.0h3.8v2.9h-3.8zM928.5 856.9h3.8v5.0h-3.8zM933.7 854.8h3.8v7.1h-3.8zM938.9 853.4h3.8v8.5h-3.8zM954.7 853.7h3.8v8.2h-3.8zM959.9 852.8h3.8v9.1h-3.8zM965.2 850.6h3.8v11.3h-3.8zM970.4 847.7h3.8v14.2h-3.8zM975.7 847.1h3.8v14.8h-3.8zM980.9 842.0h3.8v19.9h-3.8zM986.2 835.1h3.8v26.8h-3.8zM991.4 831.7h3.8v30.2h-3.8zM1064.8 859.9h3.8v2.0h-3.8zM1070.1 853.3h3.8v8.6h-3.8zM1075.3 843.3h3.8v18.6h-3.8zM1080.6 839.2h3.8v22.7h-3.8zM1091.1 838.8h3.8v23.1h-3.8zM1238.0 858.6h3.8v3.3h-3.8zM1243.2 855.1h3.8v6.8h-3.8zM1316.7 859.7h3.8v2.2h-3.8zM1321.9 858.2h3.8v3.7h-3.8zM1327.1 856.7h3.8v5.2h-3.8zM1332.4 853.9h3.8v8.0h-3.8zM1337.6 850.6h3.8v11.3h-3.8zM1342.9 850.6h3.8v11.3h-3.8zM1353.4 851.8h3.8v10.1h-3.8zM1358.6 850.6h3.8v11.3h-3.8zM1374.4 854.0h3.8v7.9h-3.8zM1384.9 852.1h3.8v9.8h-3.8zM1390.1 849.8h3.8v12.1h-3.8zM1395.3 843.9h3.8v18.0h-3.8zM1400.6 840.6h3.8v21.3h-3.8zM1411.1 839.4h3.8v22.5h-3.8zM1416.3 839.3h3.8v22.6h-3.8zM1421.6 838.8h3.8v23.1h-3.8zM1426.8 837.0h3.8v24.9h-3.8zM1432.1 830.9h3.8v31.0h-3.8zM1437.3 829.8h3.8v32.1h-3.8zM1442.6 828.5h3.8v33.4h-3.8zM1447.8 825.4h3.8v36.5h-3.8zM1453.1 824.8h3.8v37.1h-3.8zM1484.5 857.8h3.8v4.1h-3.8zM1547.5 860.5h3.8v1.4h-3.8zM1552.7 841.0h3.8v20.9h-3.8zM1558.0 829.7h3.8v32.2h-3.8zM1568.5 820.7h3.8v41.2h-3.8z" fill="#26A69A"/>
<path d="M31.4 857.5h3.8v4.4h-3.8zM36.6 858.4h3.8v3.5h-3.8zM41.9 861.6h3.8v0.3h-3.8zM73.4 860.0h3.8v1.9h-3.8zM136.3 835.5h3.8v26.4h-3.8zM141.6 841.9h3.8v20.0h-3.8zM146.8 849.7h3.8v12.2h-3.8zM152.0 851.5h3.8v10.4h-3.8zM162.5 853.8h3.8v8.1h-3.8zM173.0 851.3h3.8v10.6h-3.8zM178.3 855.5h3.8v6.4h-3.8zM183.5 855.6h3.8v6.3h-3.8zM204.5 836.5h3.8v25.4h-3.8zM209.8 839.6h3.8v22.3h-3.8zM220.2 840.7h3.8v21.2h-3.8zM225.5 843.6h3.8v18.3h-3.8zM236.0 845.8h3.8v16.1h-3.8zM257.0 815.6h3.8v46.3h-3.8zM267.5 817.4h3.8v44.5h-3.8zM272.7 819.2h3.8v42.7h-3.8zM277.9 843.4h3.8v18.5h-3.8zM309.4 832.0h3.8v29.9h-3.8zM314.7 838.3h3.8v23.6h-3.8zM319.9 850.2h3.8v11.7h-3.8zM508.8 817.0h3.8v44.9h-3.8zM514.0 820.3h3.8v41.6h-3.8zM519.3 827.0h3.8v34.9h-3.8zM524.5 834.6h3.8v27.3h-3.8zM529.8 841.3h3.8v20.6h-3.8zM535.0 850.9h3.8v11.0h-3.8zM744.8 847.0h3.8v14.9h-3.8zM750.1 856.2h3.8v5.7h-3.8zM813.0 843.9h3.8v18.0h-3.8zM849.8 841.3h3.8v20.6h-3.8zM855.0 850.0h3.8v11.9h-3.8zM860.3 856.3h3.8v5.6h-3.8zM865.5 859.8h3.8v2.1h-3.8zM944.2 854.5h3.8v7.4h-3.8zM949.4 854.6h3.8v7.3h-3.8zM996.7 831.8h3.8v30.1h-3.8zM1001.9 833.5h3.8v28.4h-3.8zM1007.1 837.8h3.8v24.1h-3.8zM1012.4 839.4h3.8v22.5h-3.8zM1017.6 843.9h3.8v18.0h-3.8zM1022.9 849.2h3.8v12.7h-3.8zM1028.1 851.2h3.8v10.7h-3.8zM1033.4 853.6h3.8v8.3h-3.8zM1038.6 857.8h3.8v4.1h-3.8zM1085.8 840.1h3.8v21.8h-3.8zM1096.3 841.4h3.8v20.5h-3.8zM1101.6 849.3h3.8v12.6h-3.8zM1106.8 856.9h3.8v5.0h-3.8zM1248.5 857.6h3.8v4.3h-3.8zM1348.1 853.2h3.8v8.7h-3.8zM1363.9 852.8h3.8v9.1h-3.8zM1369.1 854.1h3.8v7.8h-3.8zM1379.6 854.3h3.8v7.6h-3.8zM1405.8 840.8h3.8v21.1h-3.8zM1458.3 826.2h3.8v35.7h-3.8zM1463.5 837.2h3.8v24.7h-3.8zM1468.8 847.3h3.8v14.6h-3.8zM1474.0 853.5h3.8v8.4h-3.8zM1479.3 858.0h3.8v3.9h-3.8zM1563.2 829.7h3.8v32.2h-3.8z" fill="#B2DFDB"/>
<path d="M47.1 861.9h3.8v2.5h-3.8zM52.4 861.9h3.8v4.2h-3.8zM78.6 861.9h3.8v0.5h-3.8zM83.8 861.9h3.8v2.3h-3.8zM89.1 861.9h3.8v5.6h-3.8zM94.3 861.9h3.8v9.8h-3.8zM283.2 861.9h3.8v0.3h-3.8zM288.4 861.9h3.8v4.1h-3.8zM325.2 861.9h3.8v13.5h-3.8zM330.4 861.9h3.8v41.0h-3.8zM335.7 861.9h3.8v55.2h-3.8zM340.9 861.9h3.8v69.4h-3.8zM346.1 861.9h3.8v76.4h-3.8zM367.1 861.9h3.8v53.1h-3.8zM372.4 861.9h3.8v59.8h-3.8zM382.9 861.9h3.8v62.3h-3.8zM388.1 861.9h3.8v63.4h-3.8zM393.4 861.9h3.8v63.9h-3.8zM430.1 861.9h3.8v6.4h-3.8zM435.3 861.9h3.8v15.9h-3.8zM440.6 861.9h3.8v24.9h-3.8zM445.8 861.9h3.8v26.2h-3.8zM456.3 861.9h3.8v25.8h-3.8zM461.6 861.9h3.8v26.7h-3.8zM540.2 861.9h3.8v3.8h-3.8zM545.5 861.9h3.8v8.2h-3.8zM561.2 861.9h3.8v11.2h-3.8zM566.5 861.9h3.8v29.0h-3.8zM571.7 861.9h3.8v33.0h-3.8zM577.0 861.9h3.8v42.3h-3.8zM582.2 861.9h3.8v50.0h-3.8zM587.5 861.9h3.8v55.3h-3.8zM592.7 861.9h3.8v56.7h-3.8zM650.4 861.9h3.8v1.1h-3.8zM655.7 861.9h3.8v1.3h-3.8zM666.2 861.9h3.8v1.2h-3.8zM681.9 861.9h3.8v9.8h-3.8zM687.1 861.9h3.8v15.0h-3.8zM692.4 861.9h3.8v16.9h-3.8zM697.6 861.9h3.8v17.1h-3.8zM718.6 861.9h3.8v2.7h-3.8zM755.3 861.9h3.8v5.3h-3.8zM760.6 861.9h3.8v8.7h-3.8zM771.1 861.9h3.8v8.1h-3.8zM876.0 861.9h3.8v2.1h-3.8zM881.2 861.9h3.8v4.8h-3.8zM886.5 861.9h3.8v5.7h-3.8zM891.7 861.9h3.8v6.1h-3.8zM897.0 861.9h3.8v13.6h-3.8zM902.2 861.9h3.8v16.4h-3.8zM907.5 861.9h3.8v19.4h-3.8zM1043.9 861.9h3.8v1.0h-3.8zM1049.1 861.9h3.8v5.4h-3.8zM1054.4 861.9h3.8v7.2h-3.8zM1059.6 861.9h3.8v8.0h-3.8zM1112.1 861.9h3.8v2.7h-3.8zM1117.3 861.9h3.8v5.2h-3.8zM1122.6 861.9h3.8v7.2h-3.8zM1127.8 861.9h3.8v9.0h-3.8zM1143.5 861.9h3.8v8.3h-3.8zM1148.8 861.9h3.8v11.6h-3.8zM1154.0 861.9h3.8v12.4h-3.8zM1175.0 861.9h3.8v12.5h-3.8zM1180.3 861.9h3.8v19.4h-3.8zM1185.5 861.9h3.8v22.7h-3.8zM1190.8 861.9h3.8v23.2h-3.8zM1211.7 861.9h3.8v22.5h-3.8zM1253.7 861.9h3.8v0.0h-3.8zM1259.0 861.9h3.8v4.0h-3.8zM1264.2 861.9h3.8v5.2h-3.8zM1274.7 861.9h3.8v5.9h-3.8zM1279.9 861.9h3.8v5.9h-3.8zM1290.4 861.9h3.8v7.5h-3.8zM1295.7 861.9h3.8v10.4h-3.8zM1300.9 861.9h3.8v13.3h-3.8zM1489.8 861.9h3.8v2.3h-3.8zM1495.0 861.9h3.8v8.5h-3.8zM1500.3 861.9h3.8v13.3h-3.8zM1505.5 861.9h3.8v20.5h-3.8zM1510.8 861.9h3.8v29.0h-3.8zM1516.0 861.9h3.8v35.6h-3.8z" fill="#FF5252"/>
<path d="M57.6 861.9h3.8v4.2h-3.8zM62.9 861.9h3.8v1.0h-3.8zM99.6 861.9h3.8v9.2h-3.8zM104.8 861.9h3.8v1.6h-3.8zM351.4 861.9h3.8v66.4h-3.8zM356.6 861.9h3.8v53.5h-3.8zM361.9 861.9h3.8v48.6h-3.8zM377.6 861.9h3.8v59.6h-3.8zM398.6 861.9h3.8v52.6h-3.8zM403.9 861.9h3.8v41.3h-3.8zM409.1 861.9h3.8v24.9h-3.8zM414.3 861.9h3.8v12.7h-3.8zM419.6 861.9h3.8v4.6h-3.8zM451.1 861.9h3.8v25.7h-3.8zM466.8 861.9h3.8v20.7h-3.8zM472.1 861.9h3.8v6.6h-3.8zM550.7 861.9h3.8v6.9h-3.8zM556.0 861.9h3.8v2.6h-3.8zM598.0 861.9h3.8v53.9h-3.8zM603.2 861.9h3.8v50.1h-3.8zM608.4 861.9h3.8v42.1h-3.8zM613.7 861.9h3.8v35.0h-3.8zM618.9 861.9h3.8v25.4h-3.8zM624.2 861.9h3.8v20.4h-3.8zM629.4 861.9h3.8v11.5h-3.8zM634.7 861.9h3.8v6.3h-3.8zM639.9 861.9h3.8v3.3h-3.8zM671.4 861.9h3.8v0.0h-3.8zM702.9 861.9h3.8v16.7h-3.8zM708.1 861.9h3.8v15.0h-3.8zM723.9 861.9h3.8v2.0h-3.8zM765.8 861.9h3.8v7.8h-3.8zM776.3 861.9h3.8v3.9h-3.8zM912.7 861.9h3.8v11.1h-3.8zM918.0 861.9h3.8v7.7h-3.8zM923.2 861.9h3.8v1.8h-3.8zM1133.0 861.9h3.8v8.1h-3.8zM1138.3 861.9h3.8v4.4h-3.8zM1159.3 861.9h3.8v12.4h-3.8zM1164.5 861.9h3.8v10.4h-3.8zM1169.8 861.9h3.8v9.9h-3.8zM1196.0 861.9h3.8v22.1h-3.8zM1201.2 861.9h3.8v20.1h-3.8zM1206.5 861.9h3.8v19.3h-3.8zM1217.0 861.9h3.8v19.7h-3.8zM1222.2 861.9h3.8v15.5h-3.8zM1227.5 861.9h3.8v12.4h-3.8zM1232.7 861.9h3.8v6.4h-3.8zM1269.4 861.9h3.8v4.1h-3.8zM1285.2 861.9h3.8v5.5h-3.8zM1306.2 861.9h3.8v8.2h-3.8zM1311.4 861.9h3.8v1.2h-3.8zM1521.2 861.9h3.8v35.2h-3.8zM1526.5 861.9h3.8v29.8h-3.8zM1531.7 861.9h3.8v28.6h-3.8zM1537.0 861.9h3.8v25.5h-3.8zM1542.2 861.9h3.8v13.5h-3.8z" fill="#FFCDD2"/>
<path d="M2 861.9H1945" stroke="#787B86" stroke-opacity="0.55" stroke-width="1.2" stroke-dasharray="7 8" fill="none"/>
</g>
<text x="13.40" y="32.4" textLength="290.00" lengthAdjust="spacingAndGlyphs" stroke="#131722" stroke-width="0.2">Chainlink / US Dollar · 1D · COINBASE</text>
<text x="313.20" y="32.4" textLength="63.60" lengthAdjust="spacingAndGlyphs" stroke="#131722" stroke-width="0.2">O21.070</text>
<text x="385.40" y="32.4" textLength="65.40" lengthAdjust="spacingAndGlyphs" stroke="#131722" stroke-width="0.2">H24.194</text>
<text x="461.00" y="32.4" textLength="60.00" lengthAdjust="spacingAndGlyphs" stroke="#131722" stroke-width="0.2">L21.001</text>
<text x="529.00" y="32.4" textLength="68.00" lengthAdjust="spacingAndGlyphs" stroke="#131722" stroke-width="0.2">C23.346</text>
<text x="606.20" y="32.4" textLength="137.60" lengthAdjust="spacingAndGlyphs" stroke="#131722" stroke-width="0.2">+2.274 (+10.79%)</text>
<text x="13.40" y="55.8" textLength="110.00" lengthAdjust="spacingAndGlyphs" stroke="#131722" stroke-width="0.2">Vol · LINK (14)</text>
<text x="133.80" y="55.8" textLength="51.40" lengthAdjust="spacingAndGlyphs" fill="#26A69A">3.38 M</text>
<text x="194.60" y="55.8" textLength="51.80" lengthAdjust="spacingAndGlyphs" fill="#2962FF">2.08 M</text>
<text x="12.40" y="78.8" textLength="121.20" lengthAdjust="spacingAndGlyphs" stroke="#131722" stroke-width="0.2">EMA (21, close)</text>
<text x="143.00" y="78.8" textLength="52.80" lengthAdjust="spacingAndGlyphs" fill="#2962FF">18.860</text>
<text x="12.40" y="102.2" textLength="113.60" lengthAdjust="spacingAndGlyphs" stroke="#131722" stroke-width="0.2">EMA (9, close)</text>
<text x="135.40" y="102.2" textLength="55.40" lengthAdjust="spacingAndGlyphs" fill="#E91E63">20.368</text>
<text x="12.20" y="699.7" textLength="111.80" lengthAdjust="spacingAndGlyphs" stroke="#131722" stroke-width="0.2">RSI (14, close)</text>
<text x="133.80" y="699.7" textLength="41.80" lengthAdjust="spacingAndGlyphs" fill="#7E57C2">71.95</text>
<text x="185.80" y="699.7" textLength="44.60" lengthAdjust="spacingAndGlyphs" fill="#FDD835">56.56</text>
<text x="12.40" y="818.8" textLength="164.00" lengthAdjust="spacingAndGlyphs" stroke="#131722" stroke-width="0.2">MACD (12, 26, close)</text>
<text x="187.00" y="818.8" textLength="42.40" lengthAdjust="spacingAndGlyphs" fill="#26A69A">0.527</text>
<text x="1958.20" y="83.7" textLength="56.60" lengthAdjust="spacingAndGlyphs" stroke="#131722" stroke-width="0.2">37.500</text>
<text x="1958.20" y="130.2" textLength="56.60" lengthAdjust="spacingAndGlyphs" stroke="#131722" stroke-width="0.2">33.500</text>
<text x="1958.20" y="181.7" textLength="56.60" lengthAdjust="spacingAndGlyphs" stroke="#131722" stroke-width="0.2">29.500</text>
<text x="1958.20" y="241.29999999999998" textLength="56.60" lengthAdjust="spacingAndGlyphs" stroke="#131722" stroke-width="0.2">25.500</text>
<text x="1957.20" y="311.09999999999997" textLength="57.60" lengthAdjust="spacingAndGlyphs" stroke="#131722" stroke-width="0.2">21.500</text>
<text x="1957.20" y="371.7" textLength="57.60" lengthAdjust="spacingAndGlyphs" stroke="#131722" stroke-width="0.2">18.500</text>
<text x="1957.20" y="417.9" textLength="57.60" lengthAdjust="spacingAndGlyphs" stroke="#131722" stroke-width="0.2">16.500</text>
<text x="1957.20" y="471.0" textLength="57.60" lengthAdjust="spacingAndGlyphs" stroke="#131722" stroke-width="0.2">14.500</text>
<text x="1957.20" y="515.3000000000001" textLength="57.60" lengthAdjust="spacingAndGlyphs" stroke="#131722" stroke-width="0.2">13.000</text>
<text x="1957.20" y="565.3000000000001" textLength="57.60" lengthAdjust="spacingAndGlyphs" stroke="#131722" stroke-width="0.2">11.500</text>
<text x="1957.20" y="610.2" textLength="57.60" lengthAdjust="spacingAndGlyphs" stroke="#131722" stroke-width="0.2">10.300</text>
<text x="1957.20" y="746.9000000000001" textLength="46.80" lengthAdjust="spacingAndGlyphs" stroke="#131722" stroke-width="0.2">50.00</text>
<text x="1958.20" y="790.6" textLength="45.00" lengthAdjust="spacingAndGlyphs" stroke="#131722" stroke-width="0.2">25.00</text>
<text x="1958.20" y="867.6" textLength="45.00" lengthAdjust="spacingAndGlyphs" stroke="#131722" stroke-width="0.2">0.000</text>
<text x="1958.20" y="946.1" textLength="56.00" lengthAdjust="spacingAndGlyphs" stroke="#131722" stroke-width="0.2">−1.000</text>
<rect x="1950.6" y="10" width="88.4" height="36.6" rx="6" fill="#fff" stroke="#F0F1F3" stroke-width="1.2"/>
<text x="1963.00" y="33.7" textLength="34.40" lengthAdjust="spacingAndGlyphs" stroke="#131722" stroke-width="0.2">USD</text>
<path d="M1945 259.8H1863.7a2.5 2.5 0 0 0 -2.5 2.5V280.2a2.5 2.5 0 0 0 2.5 2.5H1945z" fill="#089981"/>
<text x="1867.40" y="276.7" textLength="72.60" lengthAdjust="spacingAndGlyphs" fill="#fff">LINKUSD</text>
<path d="M1946.8 259.8H2035.5a2.5 2.5 0 0 1 2.5 2.5V299.9a2.5 2.5 0 0 1 -2.5 2.5H1946.8z" fill="#089981"/>
<text x="1958.20" y="276.7" textLength="55.80" lengthAdjust="spacingAndGlyphs" fill="#fff">23.346</text>
<text x="1958.20" y="296" textLength="71.40" lengthAdjust="spacingAndGlyphs" fill="#fff" fill-opacity="0.8">04:52:39</text>
<path d="M1946.8 315.7H2020.0a2.5 2.5 0 0 1 2.5 2.5V336.5a2.5 2.5 0 0 1 -2.5 2.5H1946.8z" fill="#E91E63"/>
<text x="1958.20" y="332.8" textLength="55.80" lengthAdjust="spacingAndGlyphs" fill="#fff">20.368</text>
<path d="M1946.8 346.8H2020.0a2.5 2.5 0 0 1 2.5 2.5V367.4a2.5 2.5 0 0 1 -2.5 2.5H1946.8z" fill="#2962FF"/>
<text x="1957.20" y="363.9" textLength="56.80" lengthAdjust="spacingAndGlyphs" fill="#fff">18.860</text>
<path d="M1946.8 616H2015.5a2.5 2.5 0 0 1 2.5 2.5V636.8a2.5 2.5 0 0 1 -2.5 2.5H1946.8z" fill="#26A69A"/>
<text x="1958.20" y="633.2" textLength="53.00" lengthAdjust="spacingAndGlyphs" fill="#fff">3.38 M</text>
<path d="M1946.8 639H2015.5a2.5 2.5 0 0 1 2.5 2.5V659.5a2.5 2.5 0 0 1 -2.5 2.5H1946.8z" fill="#2962FF"/>
<text x="1958.20" y="656.3" textLength="53.00" lengthAdjust="spacingAndGlyphs" fill="#fff">2.08 M</text>
<path d="M1946.8 691H2009.4a2.5 2.5 0 0 1 2.5 2.5V711.8a2.5 2.5 0 0 1 -2.5 2.5H1946.8z" fill="#7E57C2"/>
<text x="1957.20" y="708.4" textLength="46.00" lengthAdjust="spacingAndGlyphs" fill="#fff">71.95</text>
<path d="M1946.8 718H2009.4a2.5 2.5 0 0 1 2.5 2.5V738.8a2.5 2.5 0 0 1 -2.5 2.5H1946.8z" fill="#FDD835"/>
<text x="1958.20" y="735.4" textLength="45.00" lengthAdjust="spacingAndGlyphs" fill="#131722">56.56</text>
<path d="M1946.8 809H2009.4a2.5 2.5 0 0 1 2.5 2.5V829.9a2.5 2.5 0 0 1 -2.5 2.5H1946.8z" fill="#26A69A"/>
<text x="1958.20" y="826.4" textLength="46.00" lengthAdjust="spacingAndGlyphs" fill="#fff">0.527</text>
<text x="65.00" y="979" textLength="30.00" lengthAdjust="spacingAndGlyphs" stroke="#131722" stroke-width="0.2">Nov</text>
<text x="222.00" y="979" textLength="31.00" lengthAdjust="spacingAndGlyphs" stroke="#131722" stroke-width="0.2">Dec</text>
<text x="548.00" y="979" textLength="30.00" lengthAdjust="spacingAndGlyphs" stroke="#131722" stroke-width="0.2">Feb</text>
<text x="694.00" y="979" textLength="30.00" lengthAdjust="spacingAndGlyphs" stroke="#131722" stroke-width="0.2">Mar</text>
<text x="859.00" y="979" textLength="27.00" lengthAdjust="spacingAndGlyphs" stroke="#131722" stroke-width="0.2">Apr</text>
<text x="1014.00" y="979" textLength="32.00" lengthAdjust="spacingAndGlyphs" stroke="#131722" stroke-width="0.2">May</text>
<text x="1179.00" y="979" textLength="28.00" lengthAdjust="spacingAndGlyphs" stroke="#131722" stroke-width="0.2">Jun</text>
<text x="1339.00" y="979" textLength="23.00" lengthAdjust="spacingAndGlyphs" stroke="#131722" stroke-width="0.2">Jul</text>
<text x="1497.00" y="979" textLength="31.00" lengthAdjust="spacingAndGlyphs" stroke="#131722" stroke-width="0.2">Aug</text>
<text x="1659.00" y="979" textLength="32.00" lengthAdjust="spacingAndGlyphs" stroke="#131722" stroke-width="0.2">Sep</text>
<text x="1818.00" y="979" textLength="28.00" lengthAdjust="spacingAndGlyphs" stroke="#131722" stroke-width="0.2">Oct</text>
<text x="379.00" y="979" textLength="44.00" lengthAdjust="spacingAndGlyphs" font-weight="bold" stroke="#131722" stroke-width="0.2">2025</text>
</svg>
</body></html>
